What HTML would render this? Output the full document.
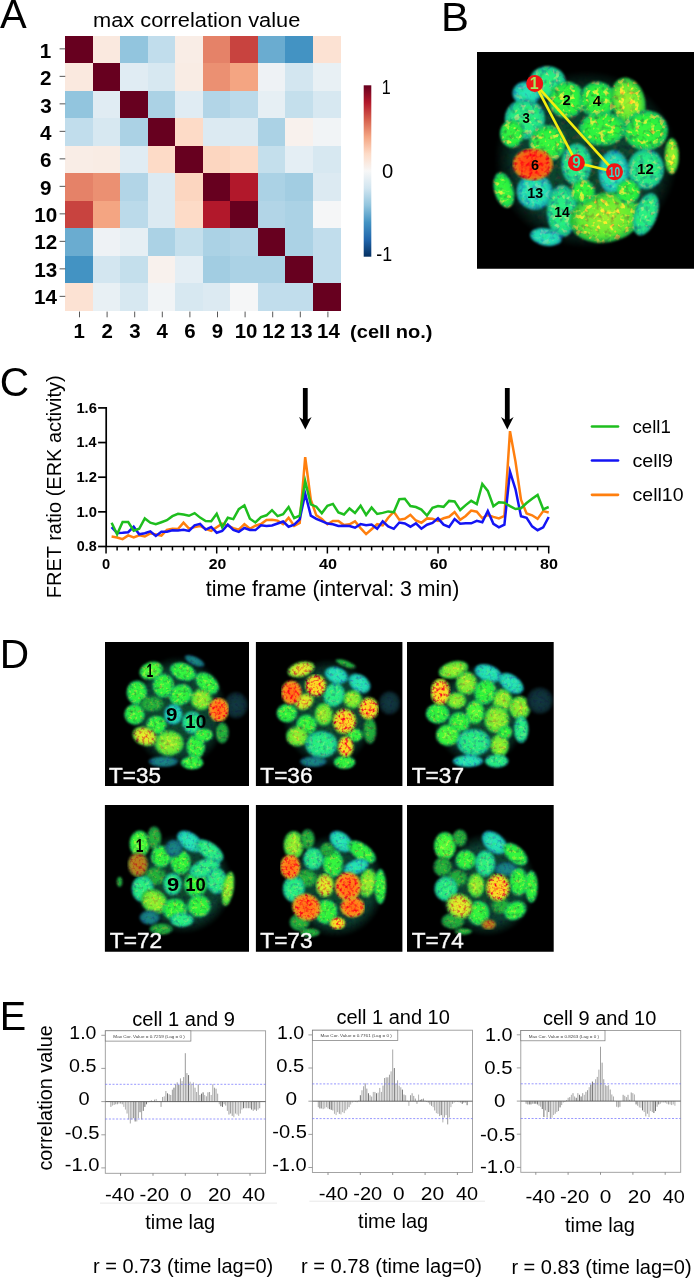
<!DOCTYPE html><html><head><meta charset="utf-8"><title>figure</title><style>html,body{margin:0;padding:0;background:#fff;overflow:hidden}svg{display:block}text{font-family:"Liberation Sans",Arial,sans-serif}</style></head><body>
<svg width="694" height="1279" viewBox="0 0 694 1279">
<rect width="694" height="1279" fill="#fff"/>
<defs>
<radialGradient id="p_g"><stop offset="0" stop-color="#38f840"/><stop offset="0.7" stop-color="#28f040"/><stop offset="1" stop-color="#14b868"/></radialGradient>
<radialGradient id="p_gb"><stop offset="0" stop-color="#60ff40"/><stop offset="0.7" stop-color="#38f83c"/><stop offset="1" stop-color="#16b858"/></radialGradient>
<radialGradient id="p_gd"><stop offset="0" stop-color="#24b83c"/><stop offset="0.7" stop-color="#1ea83c"/><stop offset="1" stop-color="#0e6a3c"/></radialGradient>
<radialGradient id="p_gc"><stop offset="0" stop-color="#2cf480"/><stop offset="0.7" stop-color="#22e888"/><stop offset="1" stop-color="#12a890"/></radialGradient>
<radialGradient id="p_c"><stop offset="0" stop-color="#28e8b4"/><stop offset="0.7" stop-color="#20dcb4"/><stop offset="1" stop-color="#1090a0"/></radialGradient>
<radialGradient id="p_cd"><stop offset="0" stop-color="#1a8a88"/><stop offset="0.7" stop-color="#167a80"/><stop offset="1" stop-color="#0c4860"/></radialGradient>
<radialGradient id="p_y"><stop offset="0" stop-color="#a0f030"/><stop offset="0.7" stop-color="#6cec34"/><stop offset="1" stop-color="#18b048"/></radialGradient>
<radialGradient id="p_yo"><stop offset="0" stop-color="#f0f028"/><stop offset="0.7" stop-color="#c8ec2c"/><stop offset="1" stop-color="#38b83c"/></radialGradient>
<radialGradient id="p_o"><stop offset="0" stop-color="#ffd420"/><stop offset="0.7" stop-color="#f4e028"/><stop offset="1" stop-color="#68c430"/></radialGradient>
<radialGradient id="p_r"><stop offset="0" stop-color="#ff6a14"/><stop offset="0.7" stop-color="#ff8a1a"/><stop offset="1" stop-color="#c0b428"/></radialGradient>
<radialGradient id="p_rr"><stop offset="0" stop-color="#ff3c10"/><stop offset="0.7" stop-color="#ff5a14"/><stop offset="1" stop-color="#c8901c"/></radialGradient>
<radialGradient id="p_gy"><stop offset="0" stop-color="#a0f030"/><stop offset="0.7" stop-color="#60ec34"/><stop offset="1" stop-color="#18b048"/></radialGradient>
<radialGradient id="p_rd"><stop offset="0" stop-color="#c07818"/><stop offset="0.7" stop-color="#b08820"/><stop offset="1" stop-color="#587828"/></radialGradient>
<radialGradient id="p_b"><stop offset="0" stop-color="#123a44"/><stop offset="0.7" stop-color="#0e3038"/><stop offset="1" stop-color="#061418"/></radialGradient>
<radialGradient id="haze"><stop offset="0" stop-color="#0c4c2c"/><stop offset="0.75" stop-color="#0a3e30"/><stop offset="1" stop-color="#000"/></radialGradient>
<filter id="blur" x="0" y="0" width="100%" height="100%" color-interpolation-filters="sRGB"><feGaussianBlur in="SourceGraphic" stdDeviation="0.9" result="b"/><feTurbulence type="fractalNoise" baseFrequency="0.3" numOctaves="2" seed="5" result="n"/><feColorMatrix in="n" type="matrix" values="0 0 0 0 1  0 0.9 0 0 0.55  0 0 0.6 0 0.7  0 0 0 0 1" result="m"/><feComposite in="b" in2="m" operator="arithmetic" k1="1" k2="0" k3="0" k4="0" result="bm"/><feColorMatrix in="n" type="matrix" values="6 0 0 0 -3.25  0 0 0 0 0  0 0 0 0 0  0 0 0 0 1" result="s"/><feColorMatrix in="b" type="matrix" values="-0.6 1.1 -0.9 0 0  0 0 0 0 0  0 0 0 0 0  0 0 0 0 1" result="bg"/><feComposite in="bg" in2="s" operator="arithmetic" k1="1" k2="0" k3="0" k4="0" result="sp"/><feComposite in="bm" in2="sp" operator="arithmetic" k1="0" k2="1" k3="0.4" k4="0"/></filter>
<filter id="blurB" x="0" y="0" width="100%" height="100%" color-interpolation-filters="sRGB"><feGaussianBlur in="SourceGraphic" stdDeviation="1.3" result="b"/><feTurbulence type="fractalNoise" baseFrequency="0.2" numOctaves="2" seed="11" result="n"/><feColorMatrix in="n" type="matrix" values="0 0 0 0 1  0 0.9 0 0 0.55  0 0 0.6 0 0.7  0 0 0 0 1" result="m"/><feComposite in="b" in2="m" operator="arithmetic" k1="1" k2="0" k3="0" k4="0" result="bm"/><feColorMatrix in="n" type="matrix" values="6 0 0 0 -3.25  0 0 0 0 0  0 0 0 0 0  0 0 0 0 1" result="s"/><feColorMatrix in="b" type="matrix" values="-0.6 1.1 -0.9 0 0  0 0 0 0 0  0 0 0 0 0  0 0 0 0 1" result="bg"/><feComposite in="bg" in2="s" operator="arithmetic" k1="1" k2="0" k3="0" k4="0" result="sp"/><feComposite in="bm" in2="sp" operator="arithmetic" k1="0" k2="1" k3="0.9" k4="0"/></filter>
<filter id="hot" x="0" y="0" width="100%" height="100%" color-interpolation-filters="sRGB"><feGaussianBlur in="SourceGraphic" stdDeviation="0.9" result="b"/><feTurbulence type="fractalNoise" baseFrequency="0.33" numOctaves="2" seed="8" result="n"/><feColorMatrix in="n" type="matrix" values="0 0 0 0 1  0 3.0 0 0 -0.65  0 0 0 0 1  0 0 0 0 1" result="m"/><feComposite in="b" in2="m" operator="arithmetic" k1="1" k2="0" k3="0" k4="0"/></filter>
<filter id="hotB" x="0" y="0" width="100%" height="100%" color-interpolation-filters="sRGB"><feGaussianBlur in="SourceGraphic" stdDeviation="1.3" result="b"/><feTurbulence type="fractalNoise" baseFrequency="0.24" numOctaves="2" seed="4" result="n"/><feColorMatrix in="n" type="matrix" values="0 0 0 0 1  0 3.0 0 0 -0.65  0 0 0 0 1  0 0 0 0 1" result="m"/><feComposite in="b" in2="m" operator="arithmetic" k1="1" k2="0" k3="0" k4="0"/></filter>
<filter id="warm" x="0" y="0" width="100%" height="100%" color-interpolation-filters="sRGB"><feGaussianBlur in="SourceGraphic" stdDeviation="0.9" result="b"/><feTurbulence type="fractalNoise" baseFrequency="0.33" numOctaves="2" seed="17" result="n"/><feColorMatrix in="n" type="matrix" values="0 0 0 0 1  0 1.8 0 0 0.0  0 0 0 0 1  0 0 0 0 1" result="m"/><feComposite in="b" in2="m" operator="arithmetic" k1="1" k2="0" k3="0" k4="0"/></filter>
</defs>
<g id="panelA">
<text transform="translate(0.00,28.10) scale(1.0000,1)" font-size="40">A</text>
<text transform="translate(93.08,27.00) scale(1.0492,1)" font-size="20.8">max correlation value</text>
<g shape-rendering="crispEdges">
<rect x="65.30" y="35.60" width="27.80" height="27.80" fill="#67001f"/>
<rect x="92.80" y="35.60" width="27.80" height="27.80" fill="#fae9df"/>
<rect x="120.30" y="35.60" width="27.80" height="27.80" fill="#92c5de"/>
<rect x="147.80" y="35.60" width="27.80" height="27.80" fill="#c1ddec"/>
<rect x="175.30" y="35.60" width="27.80" height="27.80" fill="#f9ede6"/>
<rect x="202.80" y="35.60" width="27.80" height="27.80" fill="#e58268"/>
<rect x="230.30" y="35.60" width="27.80" height="27.80" fill="#c8433f"/>
<rect x="257.80" y="35.60" width="27.80" height="27.80" fill="#6aacd0"/>
<rect x="285.30" y="35.60" width="27.80" height="27.80" fill="#4393c3"/>
<rect x="312.80" y="35.60" width="27.80" height="27.80" fill="#fce2d3"/>
<rect x="65.30" y="63.10" width="27.80" height="27.80" fill="#fae9df"/>
<rect x="92.80" y="63.10" width="27.80" height="27.80" fill="#67001f"/>
<rect x="120.30" y="63.10" width="27.80" height="27.80" fill="#e0ecf3"/>
<rect x="147.80" y="63.10" width="27.80" height="27.80" fill="#d7e8f1"/>
<rect x="175.30" y="63.10" width="27.80" height="27.80" fill="#f9ece4"/>
<rect x="202.80" y="63.10" width="27.80" height="27.80" fill="#eb9072"/>
<rect x="230.30" y="63.10" width="27.80" height="27.80" fill="#f4a582"/>
<rect x="257.80" y="63.10" width="27.80" height="27.80" fill="#eef2f5"/>
<rect x="285.30" y="63.10" width="27.80" height="27.80" fill="#d3e6f0"/>
<rect x="312.80" y="63.10" width="27.80" height="27.80" fill="#e8f0f4"/>
<rect x="65.30" y="90.60" width="27.80" height="27.80" fill="#92c5de"/>
<rect x="92.80" y="90.60" width="27.80" height="27.80" fill="#e0ecf3"/>
<rect x="120.30" y="90.60" width="27.80" height="27.80" fill="#67001f"/>
<rect x="147.80" y="90.60" width="27.80" height="27.80" fill="#abd2e5"/>
<rect x="175.30" y="90.60" width="27.80" height="27.80" fill="#e0ecf3"/>
<rect x="202.80" y="90.60" width="27.80" height="27.80" fill="#b2d5e7"/>
<rect x="230.30" y="90.60" width="27.80" height="27.80" fill="#bbdaea"/>
<rect x="257.80" y="90.60" width="27.80" height="27.80" fill="#e6eff4"/>
<rect x="285.30" y="90.60" width="27.80" height="27.80" fill="#c4dfec"/>
<rect x="312.80" y="90.60" width="27.80" height="27.80" fill="#d7e8f1"/>
<rect x="65.30" y="118.10" width="27.80" height="27.80" fill="#c1ddec"/>
<rect x="92.80" y="118.10" width="27.80" height="27.80" fill="#d7e8f1"/>
<rect x="120.30" y="118.10" width="27.80" height="27.80" fill="#abd2e5"/>
<rect x="147.80" y="118.10" width="27.80" height="27.80" fill="#67001f"/>
<rect x="175.30" y="118.10" width="27.80" height="27.80" fill="#fddbc7"/>
<rect x="202.80" y="118.10" width="27.80" height="27.80" fill="#dceaf2"/>
<rect x="230.30" y="118.10" width="27.80" height="27.80" fill="#dceaf2"/>
<rect x="257.80" y="118.10" width="27.80" height="27.80" fill="#abd2e5"/>
<rect x="285.30" y="118.10" width="27.80" height="27.80" fill="#f8f1ed"/>
<rect x="312.80" y="118.10" width="27.80" height="27.80" fill="#f1f4f6"/>
<rect x="65.30" y="145.60" width="27.80" height="27.80" fill="#f9ede6"/>
<rect x="92.80" y="145.60" width="27.80" height="27.80" fill="#f9ece4"/>
<rect x="120.30" y="145.60" width="27.80" height="27.80" fill="#e0ecf3"/>
<rect x="147.80" y="145.60" width="27.80" height="27.80" fill="#fddbc7"/>
<rect x="175.30" y="145.60" width="27.80" height="27.80" fill="#67001f"/>
<rect x="202.80" y="145.60" width="27.80" height="27.80" fill="#fcd6c0"/>
<rect x="230.30" y="145.60" width="27.80" height="27.80" fill="#fddbc7"/>
<rect x="257.80" y="145.60" width="27.80" height="27.80" fill="#c4dfec"/>
<rect x="285.30" y="145.60" width="27.80" height="27.80" fill="#e4eef4"/>
<rect x="312.80" y="145.60" width="27.80" height="27.80" fill="#d7e8f1"/>
<rect x="65.30" y="173.10" width="27.80" height="27.80" fill="#e58268"/>
<rect x="92.80" y="173.10" width="27.80" height="27.80" fill="#eb9072"/>
<rect x="120.30" y="173.10" width="27.80" height="27.80" fill="#b2d5e7"/>
<rect x="147.80" y="173.10" width="27.80" height="27.80" fill="#dceaf2"/>
<rect x="175.30" y="173.10" width="27.80" height="27.80" fill="#fcd6c0"/>
<rect x="202.80" y="173.10" width="27.80" height="27.80" fill="#67001f"/>
<rect x="230.30" y="173.10" width="27.80" height="27.80" fill="#b2182b"/>
<rect x="257.80" y="173.10" width="27.80" height="27.80" fill="#abd2e5"/>
<rect x="285.30" y="173.10" width="27.80" height="27.80" fill="#a2cde2"/>
<rect x="312.80" y="173.10" width="27.80" height="27.80" fill="#dceaf2"/>
<rect x="65.30" y="200.60" width="27.80" height="27.80" fill="#c8433f"/>
<rect x="92.80" y="200.60" width="27.80" height="27.80" fill="#f4a582"/>
<rect x="120.30" y="200.60" width="27.80" height="27.80" fill="#bbdaea"/>
<rect x="147.80" y="200.60" width="27.80" height="27.80" fill="#dceaf2"/>
<rect x="175.30" y="200.60" width="27.80" height="27.80" fill="#fddbc7"/>
<rect x="202.80" y="200.60" width="27.80" height="27.80" fill="#b2182b"/>
<rect x="230.30" y="200.60" width="27.80" height="27.80" fill="#67001f"/>
<rect x="257.80" y="200.60" width="27.80" height="27.80" fill="#b2d5e7"/>
<rect x="285.30" y="200.60" width="27.80" height="27.80" fill="#abd2e5"/>
<rect x="312.80" y="200.60" width="27.80" height="27.80" fill="#f5f6f7"/>
<rect x="65.30" y="228.10" width="27.80" height="27.80" fill="#6aacd0"/>
<rect x="92.80" y="228.10" width="27.80" height="27.80" fill="#eef2f5"/>
<rect x="120.30" y="228.10" width="27.80" height="27.80" fill="#e6eff4"/>
<rect x="147.80" y="228.10" width="27.80" height="27.80" fill="#abd2e5"/>
<rect x="175.30" y="228.10" width="27.80" height="27.80" fill="#c4dfec"/>
<rect x="202.80" y="228.10" width="27.80" height="27.80" fill="#abd2e5"/>
<rect x="230.30" y="228.10" width="27.80" height="27.80" fill="#b2d5e7"/>
<rect x="257.80" y="228.10" width="27.80" height="27.80" fill="#67001f"/>
<rect x="285.30" y="228.10" width="27.80" height="27.80" fill="#abd2e5"/>
<rect x="312.80" y="228.10" width="27.80" height="27.80" fill="#c1ddec"/>
<rect x="65.30" y="255.60" width="27.80" height="27.80" fill="#4393c3"/>
<rect x="92.80" y="255.60" width="27.80" height="27.80" fill="#d3e6f0"/>
<rect x="120.30" y="255.60" width="27.80" height="27.80" fill="#c4dfec"/>
<rect x="147.80" y="255.60" width="27.80" height="27.80" fill="#f8f1ed"/>
<rect x="175.30" y="255.60" width="27.80" height="27.80" fill="#e4eef4"/>
<rect x="202.80" y="255.60" width="27.80" height="27.80" fill="#a2cde2"/>
<rect x="230.30" y="255.60" width="27.80" height="27.80" fill="#abd2e5"/>
<rect x="257.80" y="255.60" width="27.80" height="27.80" fill="#abd2e5"/>
<rect x="285.30" y="255.60" width="27.80" height="27.80" fill="#67001f"/>
<rect x="312.80" y="255.60" width="27.80" height="27.80" fill="#c1ddec"/>
<rect x="65.30" y="283.10" width="27.80" height="27.80" fill="#fce2d3"/>
<rect x="92.80" y="283.10" width="27.80" height="27.80" fill="#e8f0f4"/>
<rect x="120.30" y="283.10" width="27.80" height="27.80" fill="#d7e8f1"/>
<rect x="147.80" y="283.10" width="27.80" height="27.80" fill="#f1f4f6"/>
<rect x="175.30" y="283.10" width="27.80" height="27.80" fill="#d7e8f1"/>
<rect x="202.80" y="283.10" width="27.80" height="27.80" fill="#dceaf2"/>
<rect x="230.30" y="283.10" width="27.80" height="27.80" fill="#f5f6f7"/>
<rect x="257.80" y="283.10" width="27.80" height="27.80" fill="#c1ddec"/>
<rect x="285.30" y="283.10" width="27.80" height="27.80" fill="#c1ddec"/>
<rect x="312.80" y="283.10" width="27.80" height="27.80" fill="#67001f"/>
</g>
<line x1="59.6" x2="65.3" y1="48.85" y2="48.85" stroke="#444" stroke-width="0.9"/>
<text transform="translate(39.70,57.90) scale(1.0600,1)" font-size="19.5" font-weight="bold">1</text>
<line x1="79.50" x2="79.50" y1="311.6" y2="317.3" stroke="#444" stroke-width="0.9"/>
<text transform="translate(73.46,337.70) scale(1.0600,1)" font-size="19.3" font-weight="bold">1</text>
<line x1="59.6" x2="65.3" y1="76.35" y2="76.35" stroke="#444" stroke-width="0.9"/>
<text transform="translate(40.12,85.25) scale(1.0600,1)" font-size="19.5" font-weight="bold">2</text>
<line x1="107.10" x2="107.10" y1="311.6" y2="317.3" stroke="#444" stroke-width="0.9"/>
<text transform="translate(101.47,337.70) scale(1.0600,1)" font-size="19.3" font-weight="bold">2</text>
<line x1="59.6" x2="65.3" y1="103.85" y2="103.85" stroke="#444" stroke-width="0.9"/>
<text transform="translate(40.22,112.60) scale(1.0600,1)" font-size="19.5" font-weight="bold">3</text>
<line x1="134.70" x2="134.70" y1="311.6" y2="317.3" stroke="#444" stroke-width="0.9"/>
<text transform="translate(129.18,337.70) scale(1.0600,1)" font-size="19.3" font-weight="bold">3</text>
<line x1="59.6" x2="65.3" y1="131.35" y2="131.35" stroke="#444" stroke-width="0.9"/>
<text transform="translate(39.91,139.95) scale(1.0600,1)" font-size="19.5" font-weight="bold">4</text>
<line x1="162.30" x2="162.30" y1="311.6" y2="317.3" stroke="#444" stroke-width="0.9"/>
<text transform="translate(156.47,337.70) scale(1.0600,1)" font-size="19.3" font-weight="bold">4</text>
<line x1="59.6" x2="65.3" y1="158.85" y2="158.85" stroke="#444" stroke-width="0.9"/>
<text transform="translate(40.06,167.30) scale(1.0600,1)" font-size="19.5" font-weight="bold">6</text>
<line x1="189.90" x2="189.90" y1="311.6" y2="317.3" stroke="#444" stroke-width="0.9"/>
<text transform="translate(184.22,337.70) scale(1.0600,1)" font-size="19.3" font-weight="bold">6</text>
<line x1="59.6" x2="65.3" y1="186.35" y2="186.35" stroke="#444" stroke-width="0.9"/>
<text transform="translate(40.12,194.65) scale(1.0600,1)" font-size="19.5" font-weight="bold">9</text>
<line x1="217.50" x2="217.50" y1="311.6" y2="317.3" stroke="#444" stroke-width="0.9"/>
<text transform="translate(211.87,337.70) scale(1.0600,1)" font-size="19.3" font-weight="bold">9</text>
<line x1="59.6" x2="65.3" y1="213.85" y2="213.85" stroke="#444" stroke-width="0.9"/>
<text transform="translate(34.26,222.00) scale(1.0600,1)" font-size="19.5" font-weight="bold">10</text>
<line x1="245.10" x2="245.10" y1="311.6" y2="317.3" stroke="#444" stroke-width="0.9"/>
<text transform="translate(234.68,337.70) scale(1.0600,1)" font-size="19.3" font-weight="bold">10</text>
<line x1="59.6" x2="65.3" y1="241.35" y2="241.35" stroke="#444" stroke-width="0.9"/>
<text transform="translate(34.26,249.35) scale(1.0600,1)" font-size="19.5" font-weight="bold">12</text>
<line x1="272.70" x2="272.70" y1="311.6" y2="317.3" stroke="#444" stroke-width="0.9"/>
<text transform="translate(262.28,337.70) scale(1.0600,1)" font-size="19.3" font-weight="bold">12</text>
<line x1="59.6" x2="65.3" y1="268.85" y2="268.85" stroke="#444" stroke-width="0.9"/>
<text transform="translate(34.26,276.70) scale(1.0600,1)" font-size="19.5" font-weight="bold">13</text>
<line x1="300.30" x2="300.30" y1="311.6" y2="317.3" stroke="#444" stroke-width="0.9"/>
<text transform="translate(289.88,337.70) scale(1.0600,1)" font-size="19.3" font-weight="bold">13</text>
<line x1="59.6" x2="65.3" y1="296.35" y2="296.35" stroke="#444" stroke-width="0.9"/>
<text transform="translate(33.90,304.05) scale(1.0600,1)" font-size="19.5" font-weight="bold">14</text>
<line x1="327.90" x2="327.90" y1="311.6" y2="317.3" stroke="#444" stroke-width="0.9"/>
<text transform="translate(317.12,337.70) scale(1.0600,1)" font-size="19.3" font-weight="bold">14</text>
<text transform="translate(350.10,337.60) scale(1.0669,1)" font-size="18.8" font-weight="bold">(cell no.)</text>
<defs><linearGradient id="cb" x1="0" y1="0" x2="0" y2="1"><stop offset="0%" stop-color="#67001f"/><stop offset="10%" stop-color="#b2182b"/><stop offset="20%" stop-color="#d6604d"/><stop offset="30%" stop-color="#f4a582"/><stop offset="40%" stop-color="#fddbc7"/><stop offset="50%" stop-color="#f7f7f7"/><stop offset="60%" stop-color="#d1e5f0"/><stop offset="70%" stop-color="#92c5de"/><stop offset="80%" stop-color="#4393c3"/><stop offset="90%" stop-color="#2166ac"/><stop offset="100%" stop-color="#053061"/></linearGradient></defs>
<rect x="363.7" y="85.3" width="7.6" height="171.4" fill="url(#cb)"/>
<text transform="translate(381.79,94.40) scale(0.8046,1)" font-size="20">1</text>
<text transform="translate(381.99,178.00) scale(1.0103,1)" font-size="20">0</text>
<text transform="translate(376.29,260.50) scale(0.8904,1)" font-size="20">-1</text>
</g>
<g id="panelB">
<text transform="translate(440.95,31.00) scale(1.0467,1)" font-size="40">B</text>
<clipPath id="clB"><rect x="477" y="52" width="217.0" height="216.8"/></clipPath>
<g clip-path="url(#clB)"><g filter="url(#blurB)">
<rect x="471" y="46" width="229.0" height="228.8" fill="#000"/>
<ellipse cx="586.2" cy="159.4" rx="92.0" ry="88.8" fill="url(#haze)"/>
<ellipse cx="547.5" cy="82.0" rx="18.2" ry="16.1" transform="rotate(0 547.5 82.0)" fill="url(#p_gc)"/>
<ellipse cx="526.5" cy="93.3" rx="14.1" ry="12.1" transform="rotate(0 526.5 93.3)" fill="url(#p_c)"/>
<ellipse cx="566.8" cy="99.7" rx="18.2" ry="18.2" transform="rotate(0 566.8 99.7)" fill="url(#p_g)"/>
<ellipse cx="597.5" cy="99.7" rx="18.2" ry="18.2" transform="rotate(0 597.5 99.7)" fill="url(#p_g)"/>
<ellipse cx="628.2" cy="101.3" rx="16.9" ry="24.2" transform="rotate(-15 628.2 101.3)" fill="url(#p_gy)"/>
<ellipse cx="524.9" cy="119.1" rx="20.2" ry="20.2" transform="rotate(0 524.9 119.1)" fill="url(#p_gc)"/>
<ellipse cx="645.9" cy="130.4" rx="22.2" ry="20.2" transform="rotate(0 645.9 130.4)" fill="url(#p_g)"/>
<ellipse cx="602.3" cy="128.8" rx="23.4" ry="16.9" transform="rotate(0 602.3 128.8)" fill="url(#p_g)"/>
<ellipse cx="547.5" cy="143.3" rx="18.2" ry="18.2" transform="rotate(0 547.5 143.3)" fill="url(#p_g)"/>
<ellipse cx="576.5" cy="164.3" rx="15.3" ry="21.0" transform="rotate(0 576.5 164.3)" fill="url(#p_gc)"/>
<ellipse cx="613.6" cy="172.3" rx="15.3" ry="22.2" transform="rotate(0 613.6 172.3)" fill="url(#p_c)"/>
<ellipse cx="645.9" cy="169.1" rx="18.2" ry="20.2" transform="rotate(0 645.9 169.1)" fill="url(#p_gc)"/>
<ellipse cx="671.7" cy="156.2" rx="7.3" ry="18.2" transform="rotate(0 671.7 156.2)" fill="url(#p_y)"/>
<ellipse cx="534.6" cy="191.7" rx="18.2" ry="18.2" transform="rotate(0 534.6 191.7)" fill="url(#p_c)"/>
<ellipse cx="503.9" cy="190.1" rx="9.7" ry="18.2" transform="rotate(-15 503.9 190.1)" fill="url(#p_g)"/>
<ellipse cx="562.0" cy="211.1" rx="15.3" ry="26.2" transform="rotate(0 562.0 211.1)" fill="url(#p_gc)"/>
<ellipse cx="605.6" cy="217.5" rx="36.3" ry="25.0" transform="rotate(-10 605.6 217.5)" fill="url(#p_gy)"/>
<ellipse cx="645.9" cy="214.3" rx="11.3" ry="22.2" transform="rotate(20 645.9 214.3)" fill="url(#p_gc)"/>
<ellipse cx="545.9" cy="236.9" rx="16.1" ry="8.9" transform="rotate(10 545.9 236.9)" fill="url(#p_c)"/>
<ellipse cx="512.0" cy="133.6" rx="12.1" ry="14.1" transform="rotate(0 512.0 133.6)" fill="url(#p_g)"/>
<ellipse cx="628.2" cy="191.7" rx="12.1" ry="12.1" transform="rotate(0 628.2 191.7)" fill="url(#p_g)"/>
<ellipse cx="583.0" cy="191.7" rx="12.1" ry="12.1" transform="rotate(0 583.0 191.7)" fill="url(#p_g)"/>
</g><g filter="url(#hotB)">
<ellipse cx="532.9" cy="164.3" rx="20.2" ry="16.1" transform="rotate(0 532.9 164.3)" fill="url(#p_rr)"/>
</g></g>
<line x1="534.7" y1="83.4" x2="576.4" y2="162.7" stroke="#f4ee10" stroke-width="2.6"/>
<line x1="534.7" y1="83.4" x2="614.5" y2="171.7" stroke="#f4ee10" stroke-width="2.6"/>
<line x1="576.4" y1="162.7" x2="614.5" y2="171.7" stroke="#f4ee10" stroke-width="2.6"/>
<circle cx="534.7" cy="83.4" r="8.5" fill="#f01414"/>
<circle cx="576.4" cy="162.7" r="8.5" fill="#f01414"/>
<circle cx="614.5" cy="171.7" r="8.5" fill="#f01414"/>
<text transform="translate(529.68,89.00) scale(1.0000,1)" font-size="16" font-weight="bold" fill="#a0e860">1</text>
<text transform="translate(572.22,168.40) scale(0.9500,1)" font-size="16" font-weight="bold" fill="#38e0a8">9</text>
<text transform="translate(608.71,177.10) scale(0.6800,1)" font-size="15" font-weight="bold" fill="#38d8d0">10</text>
<text transform="translate(562.55,105.00) scale(1.0346,1)" font-size="14.4" font-weight="bold">2</text>
<text transform="translate(592.77,105.90) scale(1.0545,1)" font-size="14.4" font-weight="bold">4</text>
<text transform="translate(522.44,122.80) scale(0.9167,1)" font-size="14.4" font-weight="bold">3</text>
<text transform="translate(530.99,169.80) scale(1.0023,1)" font-size="14.4" font-weight="bold">6</text>
<text transform="translate(637.10,174.10) scale(1.0456,1)" font-size="14.4" font-weight="bold">12</text>
<text transform="translate(527.24,197.60) scale(0.9909,1)" font-size="14.4" font-weight="bold">13</text>
<text transform="translate(554.17,216.50) scale(0.9645,1)" font-size="14.4" font-weight="bold">14</text>
</g>
<g id="panelC">
<text transform="translate(-0.13,396.40) scale(1.0157,1)" font-size="40">C</text>
<path d="M106.2 407.10 V546.5 H549.49" fill="none" stroke="#000" stroke-width="1.7"/>
<line x1="98.1" x2="106.05" y1="546.50" y2="546.50" stroke="#000" stroke-width="1.7"/>
<text transform="translate(76.80,551.40) scale(0.9844,1)" font-size="14.6" font-weight="bold">0.8</text>
<line x1="98.1" x2="106.05" y1="511.85" y2="511.85" stroke="#000" stroke-width="1.7"/>
<text transform="translate(76.41,516.75) scale(1.0110,1)" font-size="14.6" font-weight="bold">1.0</text>
<line x1="98.1" x2="106.05" y1="477.20" y2="477.20" stroke="#000" stroke-width="1.7"/>
<text transform="translate(76.41,482.10) scale(1.0110,1)" font-size="14.6" font-weight="bold">1.2</text>
<line x1="98.1" x2="106.05" y1="442.55" y2="442.55" stroke="#000" stroke-width="1.7"/>
<text transform="translate(76.44,447.45) scale(0.9844,1)" font-size="14.6" font-weight="bold">1.4</text>
<line x1="98.1" x2="106.05" y1="407.90" y2="407.90" stroke="#000" stroke-width="1.7"/>
<text transform="translate(76.41,412.80) scale(1.0110,1)" font-size="14.6" font-weight="bold">1.6</text>
<line x1="106.05" x2="106.05" y1="546.5" y2="553.5" stroke="#000" stroke-width="1.5"/>
<line x1="117.12" x2="117.12" y1="546.5" y2="550.5" stroke="#000" stroke-width="1.5"/>
<line x1="128.18" x2="128.18" y1="546.5" y2="550.5" stroke="#000" stroke-width="1.5"/>
<line x1="139.25" x2="139.25" y1="546.5" y2="550.5" stroke="#000" stroke-width="1.5"/>
<line x1="150.31" x2="150.31" y1="546.5" y2="550.5" stroke="#000" stroke-width="1.5"/>
<line x1="161.38" x2="161.38" y1="546.5" y2="550.5" stroke="#000" stroke-width="1.5"/>
<line x1="172.45" x2="172.45" y1="546.5" y2="550.5" stroke="#000" stroke-width="1.5"/>
<line x1="183.51" x2="183.51" y1="546.5" y2="550.5" stroke="#000" stroke-width="1.5"/>
<line x1="194.58" x2="194.58" y1="546.5" y2="550.5" stroke="#000" stroke-width="1.5"/>
<line x1="205.64" x2="205.64" y1="546.5" y2="550.5" stroke="#000" stroke-width="1.5"/>
<line x1="216.71" x2="216.71" y1="546.5" y2="553.5" stroke="#000" stroke-width="1.5"/>
<line x1="227.78" x2="227.78" y1="546.5" y2="550.5" stroke="#000" stroke-width="1.5"/>
<line x1="238.84" x2="238.84" y1="546.5" y2="550.5" stroke="#000" stroke-width="1.5"/>
<line x1="249.91" x2="249.91" y1="546.5" y2="550.5" stroke="#000" stroke-width="1.5"/>
<line x1="260.97" x2="260.97" y1="546.5" y2="550.5" stroke="#000" stroke-width="1.5"/>
<line x1="272.04" x2="272.04" y1="546.5" y2="550.5" stroke="#000" stroke-width="1.5"/>
<line x1="283.11" x2="283.11" y1="546.5" y2="550.5" stroke="#000" stroke-width="1.5"/>
<line x1="294.17" x2="294.17" y1="546.5" y2="550.5" stroke="#000" stroke-width="1.5"/>
<line x1="305.24" x2="305.24" y1="546.5" y2="550.5" stroke="#000" stroke-width="1.5"/>
<line x1="316.30" x2="316.30" y1="546.5" y2="550.5" stroke="#000" stroke-width="1.5"/>
<line x1="327.37" x2="327.37" y1="546.5" y2="553.5" stroke="#000" stroke-width="1.5"/>
<line x1="338.44" x2="338.44" y1="546.5" y2="550.5" stroke="#000" stroke-width="1.5"/>
<line x1="349.50" x2="349.50" y1="546.5" y2="550.5" stroke="#000" stroke-width="1.5"/>
<line x1="360.57" x2="360.57" y1="546.5" y2="550.5" stroke="#000" stroke-width="1.5"/>
<line x1="371.63" x2="371.63" y1="546.5" y2="550.5" stroke="#000" stroke-width="1.5"/>
<line x1="382.70" x2="382.70" y1="546.5" y2="550.5" stroke="#000" stroke-width="1.5"/>
<line x1="393.77" x2="393.77" y1="546.5" y2="550.5" stroke="#000" stroke-width="1.5"/>
<line x1="404.83" x2="404.83" y1="546.5" y2="550.5" stroke="#000" stroke-width="1.5"/>
<line x1="415.90" x2="415.90" y1="546.5" y2="550.5" stroke="#000" stroke-width="1.5"/>
<line x1="426.96" x2="426.96" y1="546.5" y2="550.5" stroke="#000" stroke-width="1.5"/>
<line x1="438.03" x2="438.03" y1="546.5" y2="553.5" stroke="#000" stroke-width="1.5"/>
<line x1="449.10" x2="449.10" y1="546.5" y2="550.5" stroke="#000" stroke-width="1.5"/>
<line x1="460.16" x2="460.16" y1="546.5" y2="550.5" stroke="#000" stroke-width="1.5"/>
<line x1="471.23" x2="471.23" y1="546.5" y2="550.5" stroke="#000" stroke-width="1.5"/>
<line x1="482.29" x2="482.29" y1="546.5" y2="550.5" stroke="#000" stroke-width="1.5"/>
<line x1="493.36" x2="493.36" y1="546.5" y2="550.5" stroke="#000" stroke-width="1.5"/>
<line x1="504.43" x2="504.43" y1="546.5" y2="550.5" stroke="#000" stroke-width="1.5"/>
<line x1="515.49" x2="515.49" y1="546.5" y2="550.5" stroke="#000" stroke-width="1.5"/>
<line x1="526.56" x2="526.56" y1="546.5" y2="550.5" stroke="#000" stroke-width="1.5"/>
<line x1="537.62" x2="537.62" y1="546.5" y2="550.5" stroke="#000" stroke-width="1.5"/>
<line x1="548.69" x2="548.69" y1="546.5" y2="553.5" stroke="#000" stroke-width="1.5"/>
<text transform="translate(101.89,569.00) scale(1.0027,1)" font-size="14.6" font-weight="bold">0</text>
<text transform="translate(208.63,569.00) scale(1.0803,1)" font-size="14.6" font-weight="bold">20</text>
<text transform="translate(319.06,569.00) scale(1.1102,1)" font-size="14.6" font-weight="bold">40</text>
<text transform="translate(429.64,569.00) scale(1.1052,1)" font-size="14.6" font-weight="bold">60</text>
<text transform="translate(540.02,569.00) scale(1.1065,1)" font-size="14.6" font-weight="bold">80</text>
<path d="M302.90000000000003 388.1 H307.7 V419.6 L311.6 417 L305.3 429.4 L299.0 417 L302.90000000000003 419.6 Z" fill="#000"/>
<path d="M504.90000000000003 388.1 H509.7 V419.6 L513.6 417 L507.3 429.4 L501.0 417 L504.90000000000003 419.6 Z" fill="#000"/>
<polyline points="111.6,536.6 117.1,537.5 122.6,539.1 128.2,535.4 133.7,537.4 139.2,535.3 144.8,536.5 150.3,533.3 155.8,534.4 161.4,535.6 166.9,529.8 172.4,528.8 178.0,529.0 183.5,522.7 189.0,528.6 194.6,527.1 200.1,526.0 205.6,528.8 211.2,530.9 216.7,527.3 222.2,523.6 227.8,525.7 233.3,528.1 238.8,529.6 244.4,524.1 249.9,528.8 255.4,525.7 261.0,524.0 266.5,520.0 272.0,519.8 277.6,520.6 283.1,524.1 288.6,517.7 294.2,525.9 299.7,522.9 305.2,457.1 310.8,499.7 316.3,515.3 321.8,519.0 327.4,524.3 332.9,520.9 338.4,520.9 344.0,525.1 349.5,524.3 355.0,521.3 360.6,528.1 366.1,534.1 371.6,529.2 377.2,524.2 382.7,525.4 388.2,517.7 393.8,511.7 399.3,519.7 404.8,518.7 410.4,514.8 415.9,520.5 421.4,522.7 427.0,518.4 432.5,518.8 438.0,520.8 443.6,518.3 449.1,516.8 454.6,512.1 460.2,519.7 465.7,516.0 471.2,510.5 476.8,511.7 482.3,518.2 487.8,515.0 493.4,516.9 498.9,518.5 504.4,515.9 510.0,431.1 515.5,461.6 521.0,499.7 526.6,513.5 532.1,515.3 537.6,518.9 543.2,511.1 548.7,512.5" fill="none" stroke="#ff7f0e" stroke-width="2.5" stroke-linejoin="miter" stroke-miterlimit="8"/>
<polyline points="111.6,527.1 117.1,533.0 122.6,532.8 128.2,532.2 133.7,526.7 139.2,534.3 144.8,533.2 150.3,531.3 155.8,535.9 161.4,531.8 166.9,531.8 172.4,530.2 178.0,530.6 183.5,529.7 189.0,530.9 194.6,525.4 200.1,523.9 205.6,529.6 211.2,527.0 216.7,532.7 222.2,530.9 227.8,524.6 233.3,529.8 238.8,531.8 244.4,528.0 249.9,529.9 255.4,530.1 261.0,525.3 266.5,525.9 272.0,525.5 277.6,523.5 283.1,521.5 288.6,526.7 294.2,524.7 299.7,519.4 305.2,493.7 310.8,515.6 316.3,518.8 321.8,521.2 327.4,523.6 332.9,524.3 338.4,525.9 344.0,525.7 349.5,526.1 355.0,527.7 360.6,524.1 366.1,525.2 371.6,524.5 377.2,528.8 382.7,521.3 388.2,526.4 393.8,528.8 399.3,522.5 404.8,523.5 410.4,526.7 415.9,523.4 421.4,528.7 427.0,524.7 432.5,522.9 438.0,518.3 443.6,524.6 449.1,526.9 454.6,519.0 460.2,523.7 465.7,523.3 471.2,523.3 476.8,520.9 482.3,522.2 487.8,511.0 493.4,523.8 498.9,527.4 504.4,524.6 510.0,471.7 515.5,489.3 521.0,516.2 526.6,517.8 532.1,526.4 537.6,530.2 543.2,527.4 548.7,517.0" fill="none" stroke="#1414f4" stroke-width="2.5" stroke-linejoin="miter" stroke-miterlimit="8"/>
<polyline points="111.6,522.8 117.1,534.3 122.6,522.1 128.2,522.1 133.7,530.7 139.2,528.8 144.8,518.4 150.3,522.7 155.8,524.1 161.4,522.2 166.9,520.2 172.4,516.2 178.0,513.8 183.5,514.6 189.0,515.8 194.6,513.1 200.1,517.6 205.6,521.0 211.2,521.2 216.7,513.8 222.2,527.2 227.8,517.8 233.3,519.1 238.8,509.1 244.4,505.3 249.9,518.7 255.4,522.5 261.0,517.1 266.5,515.3 272.0,510.2 277.6,516.1 283.1,514.2 288.6,507.0 294.2,518.2 299.7,515.6 305.2,481.1 310.8,504.3 316.3,506.7 321.8,513.3 327.4,505.7 332.9,503.9 338.4,512.5 344.0,514.5 349.5,508.5 355.0,512.9 360.6,505.8 366.1,514.9 371.6,507.6 377.2,514.0 382.7,512.9 388.2,511.4 393.8,512.2 399.3,499.2 404.8,498.8 410.4,506.0 415.9,507.0 421.4,509.6 427.0,515.5 432.5,507.8 438.0,506.0 443.6,506.8 449.1,500.9 454.6,501.4 460.2,510.0 465.7,505.1 471.2,500.8 476.8,504.0 482.3,483.9 487.8,490.9 493.4,506.3 498.9,502.3 504.4,502.7 510.0,506.1 515.5,509.0 521.0,508.2 526.6,503.0 532.1,498.7 537.6,494.9 543.2,509.3 548.7,507.0" fill="none" stroke="#1ebe1e" stroke-width="2.5" stroke-linejoin="miter" stroke-miterlimit="8"/>
<text transform="translate(60.70,598.20) rotate(-90) scale(1.0204,1)" font-size="19.6">FRET ratio (ERK activity)</text>
<text transform="translate(205.78,596.40) scale(1.0018,1)" font-size="21.3">time frame (interval: 3 min)</text>
<line x1="592" x2="618" y1="426.5" y2="426.5" stroke="#1ebe1e" stroke-width="2.7" stroke-linecap="round"/>
<text transform="translate(632.56,432.90) scale(1.0463,1)" font-size="17.8">cell1</text>
<line x1="592" x2="618" y1="460.5" y2="460.5" stroke="#1414f4" stroke-width="2.7" stroke-linecap="round"/>
<text transform="translate(632.51,466.90) scale(1.1091,1)" font-size="17.8">cell9</text>
<line x1="592" x2="618" y1="494.8" y2="494.8" stroke="#ff7f0e" stroke-width="2.7" stroke-linecap="round"/>
<text transform="translate(632.52,501.20) scale(1.0985,1)" font-size="17.8">cell10</text>
</g>
<g id="panelD">
<text transform="translate(-0.25,668.00) scale(1.0168,1)" font-size="40">D</text>
<g><clipPath id="cl1"><rect x="104.9" y="642" width="144.1" height="144.1"/></clipPath>
<g clip-path="url(#cl1)"><g filter="url(#blur)">
<rect x="98.9" y="636" width="156.1" height="156.1" fill="#000"/>
<ellipse cx="178.4" cy="711.9" rx="48.8" ry="56.0" fill="url(#haze)"/>
<ellipse cx="151.2" cy="670.6" rx="12.1" ry="8.6" transform="rotate(-20 151.2 670.6)" fill="url(#p_gb)"/>
<ellipse cx="183.0" cy="671.7" rx="13.5" ry="8.6" transform="rotate(20 183.0 671.7)" fill="url(#p_g)"/>
<ellipse cx="194.5" cy="660.9" rx="10.8" ry="4.3" transform="rotate(25 194.5 660.9)" fill="url(#p_cd)"/>
<ellipse cx="207.2" cy="683.3" rx="13.5" ry="8.9" transform="rotate(40 207.2 683.3)" fill="url(#p_g)"/>
<ellipse cx="136.9" cy="692.5" rx="10.3" ry="12.1" transform="rotate(0 136.9 692.5)" fill="url(#p_g)"/>
<ellipse cx="163.4" cy="685.6" rx="10.8" ry="12.1" transform="rotate(0 163.4 685.6)" fill="url(#p_g)"/>
<ellipse cx="180.7" cy="694.8" rx="12.1" ry="10.3" transform="rotate(-30 180.7 694.8)" fill="url(#p_g)"/>
<ellipse cx="201.4" cy="699.4" rx="10.8" ry="10.8" transform="rotate(0 201.4 699.4)" fill="url(#p_y)"/>
<ellipse cx="134.6" cy="714.4" rx="10.3" ry="10.3" transform="rotate(0 134.6 714.4)" fill="url(#p_g)"/>
<ellipse cx="151.9" cy="704.0" rx="12.1" ry="8.1" transform="rotate(0 151.9 704.0)" fill="url(#p_gd)"/>
<ellipse cx="173.3" cy="714.4" rx="9.4" ry="10.3" transform="rotate(0 173.3 714.4)" fill="url(#p_c)"/>
<ellipse cx="192.2" cy="722.5" rx="10.3" ry="11.3" transform="rotate(0 192.2 722.5)" fill="url(#p_gc)"/>
<ellipse cx="156.5" cy="724.8" rx="10.3" ry="9.4" transform="rotate(0 156.5 724.8)" fill="url(#p_g)"/>
<ellipse cx="169.2" cy="743.2" rx="14.8" ry="12.9" transform="rotate(0 169.2 743.2)" fill="url(#p_y)"/>
<ellipse cx="195.7" cy="746.7" rx="9.4" ry="12.1" transform="rotate(0 195.7 746.7)" fill="url(#p_g)"/>
<ellipse cx="203.7" cy="735.1" rx="9.4" ry="6.7" transform="rotate(0 203.7 735.1)" fill="url(#p_g)"/>
<ellipse cx="163.4" cy="761.6" rx="14.8" ry="5.4" transform="rotate(0 163.4 761.6)" fill="url(#p_cd)"/>
<ellipse cx="192.2" cy="762.8" rx="11.3" ry="6.7" transform="rotate(0 192.2 762.8)" fill="url(#p_g)"/>
<ellipse cx="236.0" cy="705.2" rx="12.1" ry="13.5" transform="rotate(0 236.0 705.2)" fill="url(#p_b)"/>
<ellipse cx="222.2" cy="732.8" rx="6.7" ry="10.8" transform="rotate(0 222.2 732.8)" fill="url(#p_gd)"/>
</g><g filter="url(#warm)">
<ellipse cx="145.0" cy="736.3" rx="12.9" ry="9.4" transform="rotate(20 145.0 736.3)" fill="url(#p_yo)"/>
</g><g filter="url(#hot)">
<ellipse cx="218.7" cy="709.8" rx="10.3" ry="12.1" transform="rotate(0 218.7 709.8)" fill="url(#p_r)"/>
</g></g>
<text transform="translate(146.57,677.40) scale(0.6627,1)" font-size="18.3" font-weight="bold">1</text>
<text transform="translate(166.08,720.80) scale(1.1264,1)" font-size="18.3" font-weight="bold">9</text>
<text transform="translate(185.05,727.80) scale(1.0433,1)" font-size="18.3" font-weight="bold">10</text>
<text transform="translate(109.05,782.60) scale(0.9949,1)" font-size="22.6" fill="#fff" stroke="#e8e8e8" stroke-width="0.5">T=35</text>
</g>
<g><clipPath id="cl2"><rect x="255.9" y="642" width="146.5" height="144.1"/></clipPath>
<g clip-path="url(#cl2)"><g filter="url(#blur)">
<rect x="249.9" y="636" width="158.5" height="156.1" fill="#000"/>
<ellipse cx="328.4" cy="713.0" rx="46.5" ry="54.3" fill="url(#haze)"/>
<ellipse cx="336.5" cy="675.2" rx="12.1" ry="8.1" transform="rotate(20 336.5 675.2)" fill="url(#p_c)"/>
<ellipse cx="359.5" cy="683.3" rx="12.1" ry="8.6" transform="rotate(35 359.5 683.3)" fill="url(#p_c)"/>
<ellipse cx="345.7" cy="663.7" rx="10.8" ry="3.2" transform="rotate(20 345.7 663.7)" fill="url(#p_gd)"/>
<ellipse cx="334.1" cy="694.8" rx="10.8" ry="12.1" transform="rotate(20 334.1 694.8)" fill="url(#p_gc)"/>
<ellipse cx="352.6" cy="699.4" rx="9.4" ry="9.4" transform="rotate(0 352.6 699.4)" fill="url(#p_y)"/>
<ellipse cx="286.9" cy="713.2" rx="10.3" ry="9.4" transform="rotate(0 286.9 713.2)" fill="url(#p_g)"/>
<ellipse cx="323.8" cy="714.4" rx="9.4" ry="11.3" transform="rotate(0 323.8 714.4)" fill="url(#p_y)"/>
<ellipse cx="306.5" cy="724.8" rx="10.3" ry="10.3" transform="rotate(0 306.5 724.8)" fill="url(#p_g)"/>
<ellipse cx="297.3" cy="736.3" rx="11.3" ry="10.3" transform="rotate(0 297.3 736.3)" fill="url(#p_y)"/>
<ellipse cx="321.5" cy="744.4" rx="16.2" ry="13.5" transform="rotate(0 321.5 744.4)" fill="url(#p_gc)"/>
<ellipse cx="354.9" cy="735.1" rx="8.1" ry="6.7" transform="rotate(0 354.9 735.1)" fill="url(#p_g)"/>
<ellipse cx="369.9" cy="730.5" rx="6.7" ry="13.5" transform="rotate(0 369.9 730.5)" fill="url(#p_gd)"/>
<ellipse cx="313.4" cy="761.6" rx="13.5" ry="5.4" transform="rotate(0 313.4 761.6)" fill="url(#p_cd)"/>
<ellipse cx="344.5" cy="762.3" rx="10.8" ry="6.7" transform="rotate(0 344.5 762.3)" fill="url(#p_g)"/>
<ellipse cx="389.5" cy="702.9" rx="10.8" ry="12.1" transform="rotate(0 389.5 702.9)" fill="url(#p_b)"/>
</g><g filter="url(#warm)">
<ellipse cx="301.2" cy="669.4" rx="14.0" ry="7.6" transform="rotate(-15 301.2 669.4)" fill="url(#p_yo)"/>
<ellipse cx="304.2" cy="701.7" rx="10.3" ry="8.1" transform="rotate(-30 304.2 701.7)" fill="url(#p_yo)"/>
</g><g filter="url(#hot)">
<ellipse cx="291.5" cy="692.5" rx="10.3" ry="12.1" transform="rotate(0 291.5 692.5)" fill="url(#p_r)"/>
<ellipse cx="315.7" cy="685.6" rx="10.8" ry="11.3" transform="rotate(0 315.7 685.6)" fill="url(#p_o)"/>
<ellipse cx="368.7" cy="708.6" rx="10.3" ry="11.3" transform="rotate(0 368.7 708.6)" fill="url(#p_o)"/>
<ellipse cx="344.5" cy="721.3" rx="12.1" ry="12.9" transform="rotate(0 344.5 721.3)" fill="url(#p_o)"/>
<ellipse cx="345.7" cy="746.7" rx="8.1" ry="10.8" transform="rotate(0 345.7 746.7)" fill="url(#p_o)"/>
</g></g>
<text transform="translate(260.35,782.60) scale(1.0008,1)" font-size="22.6" fill="#fff" stroke="#e8e8e8" stroke-width="0.5">T=36</text>
</g>
<g><clipPath id="cl3"><rect x="407" y="642" width="146.7" height="144.1"/></clipPath>
<g clip-path="url(#cl3)"><g filter="url(#blur)">
<rect x="401" y="636" width="158.7" height="156.1" fill="#000"/>
<ellipse cx="479.4" cy="715.4" rx="46.8" ry="50.7" fill="url(#haze)"/>
<ellipse cx="453.5" cy="669.8" rx="15.2" ry="8.4" transform="rotate(-15 453.5 669.8)" fill="url(#p_y)"/>
<ellipse cx="488.1" cy="673.2" rx="14.2" ry="8.4" transform="rotate(20 488.1 673.2)" fill="url(#p_c)"/>
<ellipse cx="511.1" cy="683.3" rx="14.2" ry="8.4" transform="rotate(35 511.1 683.3)" fill="url(#p_c)"/>
<ellipse cx="466.5" cy="683.3" rx="10.8" ry="11.8" transform="rotate(0 466.5 683.3)" fill="url(#p_y)"/>
<ellipse cx="485.2" cy="692.0" rx="10.8" ry="12.8" transform="rotate(20 485.2 692.0)" fill="url(#p_g)"/>
<ellipse cx="456.4" cy="700.6" rx="10.1" ry="8.4" transform="rotate(0 456.4 700.6)" fill="url(#p_y)"/>
<ellipse cx="502.5" cy="700.6" rx="10.1" ry="11.8" transform="rotate(0 502.5 700.6)" fill="url(#p_y)"/>
<ellipse cx="519.8" cy="707.8" rx="10.8" ry="11.8" transform="rotate(0 519.8 707.8)" fill="url(#p_y)"/>
<ellipse cx="437.6" cy="713.6" rx="11.8" ry="10.1" transform="rotate(0 437.6 713.6)" fill="url(#p_g)"/>
<ellipse cx="475.1" cy="712.1" rx="9.4" ry="11.8" transform="rotate(0 475.1 712.1)" fill="url(#p_gb)"/>
<ellipse cx="496.7" cy="719.3" rx="12.8" ry="14.2" transform="rotate(0 496.7 719.3)" fill="url(#p_y)"/>
<ellipse cx="459.3" cy="722.2" rx="10.8" ry="10.1" transform="rotate(0 459.3 722.2)" fill="url(#p_g)"/>
<ellipse cx="447.7" cy="735.2" rx="11.8" ry="10.8" transform="rotate(0 447.7 735.2)" fill="url(#p_gb)"/>
<ellipse cx="473.7" cy="742.4" rx="16.9" ry="13.5" transform="rotate(0 473.7 742.4)" fill="url(#p_gc)"/>
<ellipse cx="499.6" cy="745.3" rx="9.4" ry="11.8" transform="rotate(0 499.6 745.3)" fill="url(#p_y)"/>
<ellipse cx="521.2" cy="729.4" rx="7.4" ry="13.5" transform="rotate(0 521.2 729.4)" fill="url(#p_gc)"/>
<ellipse cx="467.9" cy="761.1" rx="15.2" ry="6.1" transform="rotate(0 467.9 761.1)" fill="url(#p_c)"/>
<ellipse cx="496.7" cy="761.1" rx="11.8" ry="6.7" transform="rotate(0 496.7 761.1)" fill="url(#p_gc)"/>
<ellipse cx="539.9" cy="700.6" rx="13.5" ry="13.5" transform="rotate(0 539.9 700.6)" fill="url(#p_b)"/>
<ellipse cx="505.4" cy="732.3" rx="6.7" ry="6.7" transform="rotate(0 505.4 732.3)" fill="url(#p_g)"/>
</g><g filter="url(#warm)">
</g><g filter="url(#hot)">
<ellipse cx="440.5" cy="692.0" rx="10.1" ry="13.5" transform="rotate(0 440.5 692.0)" fill="url(#p_o)"/>
</g></g>
<text transform="translate(411.75,782.60) scale(1.0030,1)" font-size="22.6" fill="#fff" stroke="#e8e8e8" stroke-width="0.5">T=37</text>
</g>
<g><clipPath id="cl4"><rect x="104.9" y="805.1" width="144.1" height="146.7"/></clipPath>
<g clip-path="url(#cl4)"><g filter="url(#blur)">
<rect x="98.9" y="799.1" width="156.1" height="158.7" fill="#000"/>
<ellipse cx="183.0" cy="883.6" rx="50.0" ry="50.5" fill="url(#haze)"/>
<ellipse cx="139.7" cy="843.8" rx="10.2" ry="13.2" transform="rotate(0 139.7 843.8)" fill="url(#p_gb)"/>
<ellipse cx="154.2" cy="838.0" rx="7.3" ry="11.7" transform="rotate(0 154.2 838.0)" fill="url(#p_gd)"/>
<ellipse cx="161.1" cy="856.5" rx="10.2" ry="11.1" transform="rotate(0 161.1 856.5)" fill="url(#p_g)"/>
<ellipse cx="180.7" cy="862.2" rx="10.2" ry="12.3" transform="rotate(0 180.7 862.2)" fill="url(#p_g)"/>
<ellipse cx="189.9" cy="841.5" rx="14.6" ry="8.8" transform="rotate(35 189.9 841.5)" fill="url(#p_c)"/>
<ellipse cx="209.5" cy="850.7" rx="16.1" ry="8.2" transform="rotate(35 209.5 850.7)" fill="url(#p_gc)"/>
<ellipse cx="155.3" cy="876.1" rx="11.1" ry="9.4" transform="rotate(0 155.3 876.1)" fill="url(#p_gd)"/>
<ellipse cx="172.6" cy="884.1" rx="9.4" ry="11.1" transform="rotate(0 172.6 884.1)" fill="url(#p_gc)"/>
<ellipse cx="195.7" cy="884.1" rx="11.7" ry="13.2" transform="rotate(0 195.7 884.1)" fill="url(#p_g)"/>
<ellipse cx="204.9" cy="868.0" rx="16.1" ry="8.8" transform="rotate(-20 204.9 868.0)" fill="url(#p_gc)"/>
<ellipse cx="216.4" cy="880.7" rx="10.2" ry="13.2" transform="rotate(0 216.4 880.7)" fill="url(#p_gc)"/>
<ellipse cx="228.0" cy="888.8" rx="5.9" ry="17.6" transform="rotate(10 228.0 888.8)" fill="url(#p_y)"/>
<ellipse cx="142.7" cy="888.8" rx="11.1" ry="13.2" transform="rotate(0 142.7 888.8)" fill="url(#p_gc)"/>
<ellipse cx="154.2" cy="901.4" rx="14.1" ry="11.7" transform="rotate(35 154.2 901.4)" fill="url(#p_y)"/>
<ellipse cx="174.9" cy="909.5" rx="12.3" ry="11.1" transform="rotate(0 174.9 909.5)" fill="url(#p_g)"/>
<ellipse cx="199.1" cy="906.1" rx="11.7" ry="11.1" transform="rotate(0 199.1 906.1)" fill="url(#p_g)"/>
<ellipse cx="181.8" cy="919.9" rx="11.7" ry="7.3" transform="rotate(0 181.8 919.9)" fill="url(#p_gc)"/>
<ellipse cx="149.6" cy="917.6" rx="10.2" ry="7.3" transform="rotate(0 149.6 917.6)" fill="url(#p_cd)"/>
<ellipse cx="161.1" cy="929.1" rx="11.7" ry="5.9" transform="rotate(0 161.1 929.1)" fill="url(#p_gd)"/>
<ellipse cx="119.6" cy="881.8" rx="2.9" ry="5.3" transform="rotate(0 119.6 881.8)" fill="url(#p_gd)"/>
<ellipse cx="173.8" cy="848.4" rx="8.8" ry="8.8" transform="rotate(0 173.8 848.4)" fill="url(#p_cd)"/>
</g><g filter="url(#warm)">
<ellipse cx="138.0" cy="864.6" rx="10.2" ry="12.3" transform="rotate(0 138.0 864.6)" fill="url(#p_rd)"/>
</g><g filter="url(#hot)">
</g></g>
<text transform="translate(135.77,852.40) scale(0.7557,1)" font-size="18.3" font-weight="bold">1</text>
<text transform="translate(166.94,890.60) scale(1.2044,1)" font-size="18.3" font-weight="bold">9</text>
<text transform="translate(185.20,891.00) scale(1.0056,1)" font-size="18.3" font-weight="bold">10</text>
<text transform="translate(109.85,947.60) scale(1.0011,1)" font-size="22.6" fill="#fff" stroke="#e8e8e8" stroke-width="0.5">T=72</text>
</g>
<g><clipPath id="cl5"><rect x="255.9" y="805.1" width="146.5" height="146.7"/></clipPath>
<g clip-path="url(#cl5)"><g filter="url(#blur)">
<rect x="249.9" y="799.1" width="158.5" height="158.7" fill="#000"/>
<ellipse cx="335.3" cy="885.9" rx="50.0" ry="51.7" fill="url(#haze)"/>
<ellipse cx="293.8" cy="845.0" rx="10.2" ry="14.1" transform="rotate(0 293.8 845.0)" fill="url(#p_y)"/>
<ellipse cx="307.6" cy="839.2" rx="7.3" ry="10.2" transform="rotate(0 307.6 839.2)" fill="url(#p_gd)"/>
<ellipse cx="313.4" cy="858.8" rx="10.2" ry="11.1" transform="rotate(0 313.4 858.8)" fill="url(#p_gc)"/>
<ellipse cx="333.0" cy="863.4" rx="10.2" ry="14.1" transform="rotate(0 333.0 863.4)" fill="url(#p_g)"/>
<ellipse cx="341.1" cy="841.5" rx="13.2" ry="8.8" transform="rotate(40 341.1 841.5)" fill="url(#p_c)"/>
<ellipse cx="361.8" cy="851.9" rx="16.1" ry="8.2" transform="rotate(35 361.8 851.9)" fill="url(#p_g)"/>
<ellipse cx="306.5" cy="878.4" rx="11.1" ry="9.4" transform="rotate(0 306.5 878.4)" fill="url(#p_gd)"/>
<ellipse cx="356.1" cy="866.9" rx="13.2" ry="7.3" transform="rotate(-20 356.1 866.9)" fill="url(#p_c)"/>
<ellipse cx="367.6" cy="883.0" rx="8.8" ry="14.6" transform="rotate(10 367.6 883.0)" fill="url(#p_y)"/>
<ellipse cx="380.3" cy="886.5" rx="5.9" ry="17.6" transform="rotate(0 380.3 886.5)" fill="url(#p_g)"/>
<ellipse cx="293.8" cy="888.8" rx="11.1" ry="13.2" transform="rotate(0 293.8 888.8)" fill="url(#p_gc)"/>
<ellipse cx="326.1" cy="911.8" rx="11.7" ry="12.3" transform="rotate(0 326.1 911.8)" fill="url(#p_g)"/>
<ellipse cx="299.6" cy="922.2" rx="10.2" ry="8.8" transform="rotate(0 299.6 922.2)" fill="url(#p_gd)"/>
<ellipse cx="309.9" cy="932.6" rx="10.2" ry="4.4" transform="rotate(0 309.9 932.6)" fill="url(#p_gd)"/>
<ellipse cx="327.2" cy="849.6" rx="7.3" ry="7.3" transform="rotate(0 327.2 849.6)" fill="url(#p_gd)"/>
</g><g filter="url(#warm)">
<ellipse cx="324.9" cy="885.3" rx="9.4" ry="12.3" transform="rotate(0 324.9 885.3)" fill="url(#p_yo)"/>
</g><g filter="url(#hot)">
<ellipse cx="290.3" cy="866.9" rx="10.2" ry="12.3" transform="rotate(0 290.3 866.9)" fill="url(#p_r)"/>
<ellipse cx="348.0" cy="886.5" rx="13.2" ry="14.6" transform="rotate(0 348.0 886.5)" fill="url(#p_r)"/>
<ellipse cx="306.5" cy="907.2" rx="14.6" ry="13.2" transform="rotate(30 306.5 907.2)" fill="url(#p_r)"/>
<ellipse cx="352.6" cy="907.2" rx="12.3" ry="10.2" transform="rotate(0 352.6 907.2)" fill="url(#p_r)"/>
<ellipse cx="337.6" cy="923.3" rx="8.2" ry="6.4" transform="rotate(0 337.6 923.3)" fill="url(#p_o)"/>
</g></g>
<text transform="translate(260.35,947.60) scale(1.0008,1)" font-size="22.6" fill="#fff" stroke="#e8e8e8" stroke-width="0.5">T=73</text>
</g>
<g><clipPath id="cl6"><rect x="407" y="805.1" width="146.7" height="146.7"/></clipPath>
<g clip-path="url(#cl6)"><g filter="url(#blur)">
<rect x="401" y="799.1" width="158.7" height="158.7" fill="#000"/>
<ellipse cx="487.0" cy="884.7" rx="49.4" ry="51.7" fill="url(#haze)"/>
<ellipse cx="445.0" cy="846.1" rx="11.1" ry="14.1" transform="rotate(0 445.0 846.1)" fill="url(#p_gb)"/>
<ellipse cx="459.9" cy="838.0" rx="7.3" ry="8.8" transform="rotate(0 459.9 838.0)" fill="url(#p_gd)"/>
<ellipse cx="442.7" cy="866.9" rx="9.4" ry="10.2" transform="rotate(0 442.7 866.9)" fill="url(#p_gd)"/>
<ellipse cx="465.7" cy="859.9" rx="10.2" ry="10.2" transform="rotate(0 465.7 859.9)" fill="url(#p_g)"/>
<ellipse cx="485.3" cy="863.4" rx="10.2" ry="13.2" transform="rotate(0 485.3 863.4)" fill="url(#p_gc)"/>
<ellipse cx="494.5" cy="842.7" rx="14.6" ry="9.4" transform="rotate(40 494.5 842.7)" fill="url(#p_c)"/>
<ellipse cx="515.3" cy="854.2" rx="14.6" ry="8.2" transform="rotate(40 515.3 854.2)" fill="url(#p_g)"/>
<ellipse cx="457.6" cy="878.4" rx="10.2" ry="8.8" transform="rotate(0 457.6 878.4)" fill="url(#p_gd)"/>
<ellipse cx="476.1" cy="885.3" rx="8.8" ry="12.3" transform="rotate(0 476.1 885.3)" fill="url(#p_y)"/>
<ellipse cx="506.1" cy="869.2" rx="11.7" ry="7.3" transform="rotate(0 506.1 869.2)" fill="url(#p_cd)"/>
<ellipse cx="518.7" cy="881.8" rx="9.4" ry="14.1" transform="rotate(0 518.7 881.8)" fill="url(#p_g)"/>
<ellipse cx="531.4" cy="886.5" rx="6.4" ry="16.1" transform="rotate(0 531.4 886.5)" fill="url(#p_g)"/>
<ellipse cx="446.1" cy="888.8" rx="11.7" ry="12.3" transform="rotate(0 446.1 888.8)" fill="url(#p_gc)"/>
<ellipse cx="478.4" cy="913.0" rx="11.1" ry="12.3" transform="rotate(0 478.4 913.0)" fill="url(#p_g)"/>
<ellipse cx="501.4" cy="906.1" rx="10.2" ry="8.2" transform="rotate(0 501.4 906.1)" fill="url(#p_gd)"/>
<ellipse cx="515.3" cy="910.7" rx="11.7" ry="8.8" transform="rotate(-30 515.3 910.7)" fill="url(#p_g)"/>
<ellipse cx="453.0" cy="921.0" rx="11.7" ry="8.2" transform="rotate(0 453.0 921.0)" fill="url(#p_gd)"/>
<ellipse cx="463.4" cy="931.4" rx="8.8" ry="3.5" transform="rotate(0 463.4 931.4)" fill="url(#p_gd)"/>
</g><g filter="url(#warm)">
<ellipse cx="459.9" cy="906.1" rx="14.1" ry="12.3" transform="rotate(30 459.9 906.1)" fill="url(#p_yo)"/>
<ellipse cx="488.8" cy="924.5" rx="7.3" ry="5.3" transform="rotate(0 488.8 924.5)" fill="url(#p_rd)"/>
</g><g filter="url(#hot)">
<ellipse cx="498.0" cy="887.6" rx="12.3" ry="14.1" transform="rotate(0 498.0 887.6)" fill="url(#p_o)"/>
</g></g>
<text transform="translate(411.75,947.60) scale(0.9981,1)" font-size="22.6" fill="#fff" stroke="#e8e8e8" stroke-width="0.5">T=74</text>
</g>
</g>
<g id="panelE">
<text transform="translate(-0.17,1030.40) scale(0.9908,1)" font-size="40">E</text>
<text transform="translate(52.10,1170.59) rotate(-90) scale(0.9909,1)" font-size="20">correlation value</text>
<line x1="100" x2="277" y1="1203.1" y2="1203.1" stroke="#e2e2e2" stroke-width="0.8"/>
<line x1="309.4" x2="485" y1="1201.2" y2="1201.2" stroke="#e2e2e2" stroke-width="0.8"/>
<g>
<rect x="105.3" y="1030.8" width="160.3" height="142.5" fill="#fff" stroke="#9a9a9a" stroke-width="0.9"/>
<rect x="110.40" y="1101.60" width="1.0" height="5.30" fill="#a0a0a0"/>
<rect x="112.01" y="1101.60" width="1.0" height="3.98" fill="#b4b4b4"/>
<rect x="113.63" y="1101.60" width="1.0" height="3.31" fill="#a0a0a0"/>
<rect x="115.25" y="1101.60" width="1.0" height="2.65" fill="#9a9a9a"/>
<rect x="116.87" y="1101.60" width="1.0" height="2.65" fill="#9a9a9a"/>
<rect x="118.48" y="1101.60" width="1.0" height="1.99" fill="#b4b4b4"/>
<rect x="120.10" y="1101.60" width="1.0" height="1.99" fill="#a0a0a0"/>
<rect x="121.72" y="1101.60" width="1.0" height="2.65" fill="#a0a0a0"/>
<rect x="123.34" y="1101.60" width="1.0" height="5.30" fill="#b4b4b4"/>
<rect x="124.95" y="1101.60" width="1.0" height="7.96" fill="#b4b4b4"/>
<rect x="126.57" y="1101.60" width="1.0" height="11.93" fill="#a8a8a8"/>
<rect x="128.19" y="1101.60" width="1.0" height="17.90" fill="#b4b4b4"/>
<rect x="129.81" y="1101.60" width="1.0" height="21.88" fill="#a8a8a8"/>
<rect x="131.42" y="1101.60" width="1.0" height="17.90" fill="#a8a8a8"/>
<rect x="133.04" y="1101.60" width="1.0" height="16.57" fill="#9a9a9a"/>
<rect x="134.66" y="1101.60" width="1.0" height="19.89" fill="#707070"/>
<rect x="136.28" y="1101.60" width="1.0" height="19.89" fill="#b4b4b4"/>
<rect x="137.89" y="1101.60" width="1.0" height="16.57" fill="#a8a8a8"/>
<rect x="139.51" y="1101.60" width="1.0" height="10.61" fill="#707070"/>
<rect x="141.13" y="1101.60" width="1.0" height="17.90" fill="#a0a0a0"/>
<rect x="142.75" y="1101.60" width="1.0" height="9.28" fill="#707070"/>
<rect x="144.36" y="1101.60" width="1.0" height="5.30" fill="#707070"/>
<rect x="145.98" y="1101.60" width="1.0" height="2.65" fill="#707070"/>
<rect x="147.60" y="1101.60" width="1.0" height="0.66" fill="#a8a8a8"/>
<rect x="149.22" y="1100.94" width="1.0" height="0.66" fill="#a8a8a8"/>
<rect x="150.83" y="1100.27" width="1.0" height="1.33" fill="#a0a0a0"/>
<rect x="152.45" y="1100.94" width="1.0" height="0.66" fill="#b4b4b4"/>
<rect x="154.07" y="1099.61" width="1.0" height="1.99" fill="#a0a0a0"/>
<rect x="155.69" y="1098.95" width="1.0" height="2.65" fill="#b4b4b4"/>
<rect x="157.30" y="1100.94" width="1.0" height="0.66" fill="#9a9a9a"/>
<rect x="158.92" y="1100.94" width="1.0" height="0.66" fill="#b4b4b4"/>
<rect x="160.54" y="1101.60" width="1.0" height="5.30" fill="#a0a0a0"/>
<rect x="162.16" y="1096.96" width="1.0" height="4.64" fill="#9a9a9a"/>
<rect x="163.77" y="1096.30" width="1.0" height="5.30" fill="#b4b4b4"/>
<rect x="165.39" y="1090.99" width="1.0" height="10.61" fill="#a8a8a8"/>
<rect x="167.01" y="1093.31" width="1.0" height="8.29" fill="#707070"/>
<rect x="168.62" y="1094.31" width="1.0" height="7.29" fill="#a0a0a0"/>
<rect x="170.24" y="1094.97" width="1.0" height="6.63" fill="#a0a0a0"/>
<rect x="171.86" y="1089.67" width="1.0" height="11.93" fill="#a0a0a0"/>
<rect x="173.48" y="1087.68" width="1.0" height="13.92" fill="#707070"/>
<rect x="175.09" y="1084.36" width="1.0" height="17.24" fill="#a0a0a0"/>
<rect x="176.71" y="1082.37" width="1.0" height="19.23" fill="#a0a0a0"/>
<rect x="178.33" y="1085.02" width="1.0" height="16.57" fill="#707070"/>
<rect x="179.95" y="1078.39" width="1.0" height="23.20" fill="#a0a0a0"/>
<rect x="181.56" y="1081.05" width="1.0" height="20.55" fill="#b4b4b4"/>
<rect x="183.18" y="1077.07" width="1.0" height="24.53" fill="#a0a0a0"/>
<rect x="184.80" y="1053.20" width="1.0" height="48.40" fill="#9a9a9a"/>
<rect x="186.42" y="1073.09" width="1.0" height="28.51" fill="#a0a0a0"/>
<rect x="188.04" y="1075.08" width="1.0" height="26.52" fill="#707070"/>
<rect x="189.65" y="1081.71" width="1.0" height="19.89" fill="#b4b4b4"/>
<rect x="191.27" y="1083.70" width="1.0" height="17.90" fill="#b4b4b4"/>
<rect x="192.89" y="1082.37" width="1.0" height="19.23" fill="#b4b4b4"/>
<rect x="194.51" y="1087.68" width="1.0" height="13.92" fill="#a0a0a0"/>
<rect x="196.12" y="1091.99" width="1.0" height="9.61" fill="#a8a8a8"/>
<rect x="197.74" y="1084.36" width="1.0" height="17.24" fill="#9a9a9a"/>
<rect x="199.36" y="1094.97" width="1.0" height="6.63" fill="#a0a0a0"/>
<rect x="200.98" y="1093.64" width="1.0" height="7.96" fill="#707070"/>
<rect x="202.59" y="1092.32" width="1.0" height="9.28" fill="#707070"/>
<rect x="204.21" y="1094.97" width="1.0" height="6.63" fill="#b4b4b4"/>
<rect x="205.83" y="1096.30" width="1.0" height="5.30" fill="#a0a0a0"/>
<rect x="207.45" y="1092.32" width="1.0" height="9.28" fill="#9a9a9a"/>
<rect x="209.06" y="1091.99" width="1.0" height="9.61" fill="#a0a0a0"/>
<rect x="210.68" y="1094.97" width="1.0" height="6.63" fill="#a8a8a8"/>
<rect x="212.30" y="1084.36" width="1.0" height="17.24" fill="#a8a8a8"/>
<rect x="213.92" y="1087.68" width="1.0" height="13.92" fill="#9a9a9a"/>
<rect x="215.53" y="1088.67" width="1.0" height="12.93" fill="#a0a0a0"/>
<rect x="217.15" y="1093.64" width="1.0" height="7.96" fill="#a8a8a8"/>
<rect x="218.77" y="1101.60" width="1.0" height="2.65" fill="#b4b4b4"/>
<rect x="220.39" y="1101.60" width="1.0" height="4.64" fill="#707070"/>
<rect x="222.00" y="1101.60" width="1.0" height="5.30" fill="#707070"/>
<rect x="223.62" y="1101.60" width="1.0" height="2.65" fill="#a0a0a0"/>
<rect x="225.24" y="1101.60" width="1.0" height="3.98" fill="#a0a0a0"/>
<rect x="226.86" y="1101.60" width="1.0" height="9.28" fill="#a8a8a8"/>
<rect x="228.47" y="1101.60" width="1.0" height="12.93" fill="#9a9a9a"/>
<rect x="230.09" y="1101.60" width="1.0" height="11.93" fill="#9a9a9a"/>
<rect x="231.71" y="1101.60" width="1.0" height="14.25" fill="#9a9a9a"/>
<rect x="233.33" y="1101.60" width="1.0" height="15.58" fill="#b4b4b4"/>
<rect x="234.94" y="1101.60" width="1.0" height="11.93" fill="#a0a0a0"/>
<rect x="236.56" y="1101.60" width="1.0" height="12.93" fill="#b4b4b4"/>
<rect x="238.18" y="1101.60" width="1.0" height="14.25" fill="#b4b4b4"/>
<rect x="239.80" y="1101.60" width="1.0" height="11.93" fill="#a8a8a8"/>
<rect x="241.41" y="1101.60" width="1.0" height="7.96" fill="#b4b4b4"/>
<rect x="243.03" y="1101.60" width="1.0" height="6.63" fill="#707070"/>
<rect x="244.65" y="1101.60" width="1.0" height="6.63" fill="#b4b4b4"/>
<rect x="246.27" y="1101.60" width="1.0" height="6.63" fill="#9a9a9a"/>
<rect x="247.88" y="1101.60" width="1.0" height="6.63" fill="#9a9a9a"/>
<rect x="249.50" y="1101.60" width="1.0" height="6.63" fill="#9a9a9a"/>
<rect x="251.12" y="1101.60" width="1.0" height="7.96" fill="#707070"/>
<rect x="252.74" y="1101.60" width="1.0" height="9.28" fill="#a8a8a8"/>
<rect x="254.35" y="1101.60" width="1.0" height="7.96" fill="#707070"/>
<rect x="255.97" y="1101.60" width="1.0" height="9.28" fill="#a0a0a0"/>
<rect x="257.59" y="1101.60" width="1.0" height="7.96" fill="#b4b4b4"/>
<rect x="259.21" y="1101.60" width="1.0" height="6.63" fill="#9a9a9a"/>
<line x1="105.3" x2="265.6" y1="1101.6" y2="1101.6" stroke="#555" stroke-width="0.9"/>
<line x1="105.3" x2="265.6" y1="1084.3" y2="1084.3" stroke="#6c6cff" stroke-width="0.7" stroke-dasharray="2 1.6"/>
<line x1="105.3" x2="265.6" y1="1119.0" y2="1119.0" stroke="#6c6cff" stroke-width="0.7" stroke-dasharray="2 1.6"/>
<line x1="120.6" x2="120.6" y1="1173.3" y2="1175.8" stroke="#777" stroke-width="0.8"/>
<line x1="153.0" x2="153.0" y1="1173.3" y2="1175.8" stroke="#777" stroke-width="0.8"/>
<line x1="185.3" x2="185.3" y1="1173.3" y2="1175.8" stroke="#777" stroke-width="0.8"/>
<line x1="217.7" x2="217.7" y1="1173.3" y2="1175.8" stroke="#777" stroke-width="0.8"/>
<line x1="250.0" x2="250.0" y1="1173.3" y2="1175.8" stroke="#777" stroke-width="0.8"/>
<line x1="101.3" x2="105.3" y1="1035.3" y2="1035.3" stroke="#888" stroke-width="0.8"/>
<line x1="101.3" x2="105.3" y1="1068.4" y2="1068.4" stroke="#888" stroke-width="0.8"/>
<line x1="101.3" x2="105.3" y1="1101.6" y2="1101.6" stroke="#888" stroke-width="0.8"/>
<line x1="101.3" x2="105.3" y1="1134.8" y2="1134.8" stroke="#888" stroke-width="0.8"/>
<line x1="101.3" x2="105.3" y1="1167.9" y2="1167.9" stroke="#888" stroke-width="0.8"/>
<rect x="105.3" y="1030.8" width="85.6" height="10.3" fill="#fff" stroke="#777" stroke-width="0.7"/>
<text x="113.3" y="1037.8" font-size="3.9" fill="#444" textLength="71.6" lengthAdjust="spacingAndGlyphs">Max Cor. Value = 0.7259 (Lag = 0 )</text>
</g>
<text transform="translate(132.20,1025.50) scale(1.0062,1)" font-size="20">cell 1 and 9</text>
<text transform="translate(69.34,1038.90) scale(1.0876,1)" font-size="17.9">1.0</text>
<text transform="translate(69.11,1071.80) scale(1.1012,1)" font-size="17.9">0.5</text>
<text transform="translate(78.50,1104.90) scale(1.1173,1)" font-size="17.9">0</text>
<text transform="translate(64.79,1138.90) scale(1.1296,1)" font-size="17.9">-0.5</text>
<text transform="translate(64.79,1171.10) scale(1.1261,1)" font-size="17.9">-1.0</text>
<text transform="translate(105.08,1201.10) scale(1.0956,1)" font-size="18.6">-40</text>
<text transform="translate(139.58,1201.10) scale(1.0995,1)" font-size="18.6">-20</text>
<text transform="translate(180.07,1201.10) scale(1.1196,1)" font-size="18.6">0</text>
<text transform="translate(207.96,1201.10) scale(1.1160,1)" font-size="18.6">20</text>
<text transform="translate(242.29,1201.10) scale(1.1046,1)" font-size="18.6">40</text>
<text transform="translate(145.30,1229.10) scale(0.9970,1)" font-size="20">time lag</text>
<text transform="translate(93.00,1273.20) scale(1.0010,1)" font-size="20">r = 0.73 (time lag=0)</text>
<g>
<rect x="312.4" y="1030.2" width="160.1" height="142.3" fill="#fff" stroke="#9a9a9a" stroke-width="0.9"/>
<rect x="317.79" y="1101.20" width="1.0" height="5.97" fill="#a8a8a8"/>
<rect x="319.41" y="1101.20" width="1.0" height="7.29" fill="#707070"/>
<rect x="321.03" y="1101.20" width="1.0" height="7.29" fill="#9a9a9a"/>
<rect x="322.65" y="1101.20" width="1.0" height="7.96" fill="#a8a8a8"/>
<rect x="324.26" y="1101.20" width="1.0" height="7.29" fill="#b4b4b4"/>
<rect x="325.88" y="1101.20" width="1.0" height="5.97" fill="#a8a8a8"/>
<rect x="327.50" y="1101.20" width="1.0" height="7.29" fill="#a8a8a8"/>
<rect x="329.12" y="1101.20" width="1.0" height="7.96" fill="#707070"/>
<rect x="330.74" y="1101.20" width="1.0" height="8.62" fill="#707070"/>
<rect x="332.35" y="1101.20" width="1.0" height="9.28" fill="#9a9a9a"/>
<rect x="333.97" y="1101.20" width="1.0" height="12.60" fill="#b4b4b4"/>
<rect x="335.59" y="1101.20" width="1.0" height="13.92" fill="#b4b4b4"/>
<rect x="337.20" y="1101.20" width="1.0" height="10.94" fill="#a8a8a8"/>
<rect x="338.82" y="1101.20" width="1.0" height="12.60" fill="#9a9a9a"/>
<rect x="340.44" y="1101.20" width="1.0" height="13.26" fill="#b4b4b4"/>
<rect x="342.06" y="1101.20" width="1.0" height="10.94" fill="#b4b4b4"/>
<rect x="343.68" y="1101.20" width="1.0" height="11.93" fill="#a8a8a8"/>
<rect x="345.29" y="1101.20" width="1.0" height="9.28" fill="#a8a8a8"/>
<rect x="346.91" y="1101.20" width="1.0" height="7.96" fill="#b4b4b4"/>
<rect x="348.53" y="1101.20" width="1.0" height="5.97" fill="#9a9a9a"/>
<rect x="350.14" y="1101.20" width="1.0" height="3.31" fill="#b4b4b4"/>
<rect x="351.76" y="1101.20" width="1.0" height="1.33" fill="#b4b4b4"/>
<rect x="353.38" y="1101.20" width="1.0" height="0.66" fill="#b4b4b4"/>
<rect x="355.00" y="1101.20" width="1.0" height="0.66" fill="#a8a8a8"/>
<rect x="356.62" y="1101.20" width="1.0" height="0.99" fill="#9a9a9a"/>
<rect x="358.23" y="1100.54" width="1.0" height="0.66" fill="#a8a8a8"/>
<rect x="359.85" y="1095.23" width="1.0" height="5.97" fill="#707070"/>
<rect x="361.47" y="1090.26" width="1.0" height="10.94" fill="#a8a8a8"/>
<rect x="363.08" y="1086.28" width="1.0" height="14.92" fill="#a8a8a8"/>
<rect x="364.70" y="1083.30" width="1.0" height="17.90" fill="#9a9a9a"/>
<rect x="366.32" y="1088.60" width="1.0" height="12.60" fill="#9a9a9a"/>
<rect x="367.94" y="1093.24" width="1.0" height="7.96" fill="#707070"/>
<rect x="369.56" y="1095.23" width="1.0" height="5.97" fill="#a8a8a8"/>
<rect x="371.17" y="1096.56" width="1.0" height="4.64" fill="#a0a0a0"/>
<rect x="372.79" y="1091.92" width="1.0" height="9.28" fill="#b4b4b4"/>
<rect x="374.41" y="1091.92" width="1.0" height="9.28" fill="#a8a8a8"/>
<rect x="376.02" y="1093.24" width="1.0" height="7.96" fill="#707070"/>
<rect x="377.64" y="1092.58" width="1.0" height="8.62" fill="#b4b4b4"/>
<rect x="379.26" y="1087.94" width="1.0" height="13.26" fill="#a8a8a8"/>
<rect x="380.88" y="1091.92" width="1.0" height="9.28" fill="#a8a8a8"/>
<rect x="382.50" y="1085.62" width="1.0" height="15.58" fill="#a0a0a0"/>
<rect x="384.11" y="1078.00" width="1.0" height="23.20" fill="#9a9a9a"/>
<rect x="385.73" y="1077.33" width="1.0" height="23.87" fill="#a8a8a8"/>
<rect x="387.35" y="1077.33" width="1.0" height="23.87" fill="#9a9a9a"/>
<rect x="388.96" y="1074.68" width="1.0" height="26.52" fill="#a0a0a0"/>
<rect x="390.58" y="1071.37" width="1.0" height="29.84" fill="#a8a8a8"/>
<rect x="392.20" y="1049.49" width="1.0" height="51.71" fill="#a8a8a8"/>
<rect x="393.82" y="1068.05" width="1.0" height="33.15" fill="#707070"/>
<rect x="395.44" y="1083.96" width="1.0" height="17.24" fill="#a8a8a8"/>
<rect x="397.05" y="1080.32" width="1.0" height="20.88" fill="#a8a8a8"/>
<rect x="398.67" y="1085.62" width="1.0" height="15.58" fill="#a8a8a8"/>
<rect x="400.29" y="1087.28" width="1.0" height="13.92" fill="#a8a8a8"/>
<rect x="401.90" y="1089.60" width="1.0" height="11.60" fill="#707070"/>
<rect x="403.52" y="1094.57" width="1.0" height="6.63" fill="#9a9a9a"/>
<rect x="405.14" y="1095.23" width="1.0" height="5.97" fill="#a8a8a8"/>
<rect x="406.76" y="1100.54" width="1.0" height="0.66" fill="#a0a0a0"/>
<rect x="408.38" y="1101.20" width="1.0" height="4.64" fill="#b4b4b4"/>
<rect x="409.99" y="1095.23" width="1.0" height="5.97" fill="#9a9a9a"/>
<rect x="411.61" y="1093.24" width="1.0" height="7.96" fill="#a0a0a0"/>
<rect x="413.23" y="1095.90" width="1.0" height="5.30" fill="#a0a0a0"/>
<rect x="414.84" y="1098.55" width="1.0" height="2.65" fill="#a0a0a0"/>
<rect x="416.46" y="1101.20" width="1.0" height="2.65" fill="#a0a0a0"/>
<rect x="418.08" y="1094.57" width="1.0" height="6.63" fill="#b4b4b4"/>
<rect x="419.70" y="1099.87" width="1.0" height="1.33" fill="#707070"/>
<rect x="421.31" y="1099.21" width="1.0" height="1.99" fill="#707070"/>
<rect x="422.93" y="1098.55" width="1.0" height="2.65" fill="#9a9a9a"/>
<rect x="424.55" y="1100.54" width="1.0" height="0.66" fill="#b4b4b4"/>
<rect x="426.17" y="1101.20" width="1.0" height="0.66" fill="#a0a0a0"/>
<rect x="427.78" y="1101.20" width="1.0" height="1.33" fill="#9a9a9a"/>
<rect x="429.40" y="1101.20" width="1.0" height="3.31" fill="#9a9a9a"/>
<rect x="431.02" y="1101.20" width="1.0" height="4.64" fill="#9a9a9a"/>
<rect x="432.64" y="1101.20" width="1.0" height="5.97" fill="#b4b4b4"/>
<rect x="434.25" y="1101.20" width="1.0" height="9.28" fill="#9a9a9a"/>
<rect x="435.87" y="1101.20" width="1.0" height="11.93" fill="#b4b4b4"/>
<rect x="437.49" y="1101.20" width="1.0" height="12.60" fill="#a8a8a8"/>
<rect x="439.11" y="1101.20" width="1.0" height="14.92" fill="#a8a8a8"/>
<rect x="440.72" y="1101.20" width="1.0" height="13.92" fill="#707070"/>
<rect x="442.34" y="1101.20" width="1.0" height="21.22" fill="#b4b4b4"/>
<rect x="443.96" y="1101.20" width="1.0" height="16.24" fill="#a8a8a8"/>
<rect x="445.58" y="1101.20" width="1.0" height="13.92" fill="#a8a8a8"/>
<rect x="447.19" y="1101.20" width="1.0" height="23.20" fill="#9a9a9a"/>
<rect x="448.81" y="1101.20" width="1.0" height="16.24" fill="#a8a8a8"/>
<rect x="450.43" y="1101.20" width="1.0" height="5.97" fill="#b4b4b4"/>
<rect x="452.05" y="1101.20" width="1.0" height="2.65" fill="#a8a8a8"/>
<rect x="453.66" y="1101.20" width="1.0" height="1.33" fill="#a8a8a8"/>
<rect x="455.28" y="1101.20" width="1.0" height="0.66" fill="#a8a8a8"/>
<rect x="456.90" y="1101.20" width="1.0" height="0.66" fill="#a0a0a0"/>
<rect x="458.52" y="1101.20" width="1.0" height="0.99" fill="#a8a8a8"/>
<rect x="460.13" y="1101.20" width="1.0" height="1.33" fill="#9a9a9a"/>
<rect x="461.75" y="1101.20" width="1.0" height="2.65" fill="#707070"/>
<rect x="463.37" y="1101.20" width="1.0" height="1.33" fill="#707070"/>
<rect x="464.99" y="1101.20" width="1.0" height="1.33" fill="#a8a8a8"/>
<rect x="466.61" y="1101.20" width="1.0" height="3.98" fill="#707070"/>
<line x1="312.4" x2="472.5" y1="1101.2" y2="1101.2" stroke="#555" stroke-width="0.9"/>
<line x1="312.4" x2="472.5" y1="1083.9" y2="1083.9" stroke="#6c6cff" stroke-width="0.7" stroke-dasharray="2 1.6"/>
<line x1="312.4" x2="472.5" y1="1118.6" y2="1118.6" stroke="#6c6cff" stroke-width="0.7" stroke-dasharray="2 1.6"/>
<line x1="328.0" x2="328.0" y1="1172.5" y2="1175.0" stroke="#777" stroke-width="0.8"/>
<line x1="360.3" x2="360.3" y1="1172.5" y2="1175.0" stroke="#777" stroke-width="0.8"/>
<line x1="392.7" x2="392.7" y1="1172.5" y2="1175.0" stroke="#777" stroke-width="0.8"/>
<line x1="425.1" x2="425.1" y1="1172.5" y2="1175.0" stroke="#777" stroke-width="0.8"/>
<line x1="457.4" x2="457.4" y1="1172.5" y2="1175.0" stroke="#777" stroke-width="0.8"/>
<line x1="308.4" x2="312.4" y1="1034.9" y2="1034.9" stroke="#888" stroke-width="0.8"/>
<line x1="308.4" x2="312.4" y1="1068.0" y2="1068.0" stroke="#888" stroke-width="0.8"/>
<line x1="308.4" x2="312.4" y1="1101.2" y2="1101.2" stroke="#888" stroke-width="0.8"/>
<line x1="308.4" x2="312.4" y1="1134.4" y2="1134.4" stroke="#888" stroke-width="0.8"/>
<line x1="308.4" x2="312.4" y1="1167.5" y2="1167.5" stroke="#888" stroke-width="0.8"/>
<rect x="312.4" y="1030.2" width="85.4" height="10.3" fill="#fff" stroke="#777" stroke-width="0.7"/>
<text x="320.4" y="1037.2" font-size="3.9" fill="#444" textLength="71.4" lengthAdjust="spacingAndGlyphs">Max Cor. Value = 0.7761 (Lag = 0 )</text>
</g>
<text transform="translate(336.40,1024.20) scale(1.0000,1)" font-size="20">cell 1 and 10</text>
<text transform="translate(277.03,1038.50) scale(1.0920,1)" font-size="17.9">1.0</text>
<text transform="translate(276.19,1071.50) scale(1.1309,1)" font-size="17.9">0.5</text>
<text transform="translate(285.57,1104.70) scale(1.1634,1)" font-size="17.9">0</text>
<text transform="translate(272.20,1137.80) scale(1.1228,1)" font-size="17.9">-0.5</text>
<text transform="translate(272.20,1171.20) scale(1.1194,1)" font-size="17.9">-1.0</text>
<text transform="translate(318.68,1199.70) scale(1.0956,1)" font-size="18.6">-40</text>
<text transform="translate(353.30,1199.70) scale(1.0759,1)" font-size="18.6">-20</text>
<text transform="translate(393.07,1199.70) scale(1.1196,1)" font-size="18.6">0</text>
<text transform="translate(420.75,1199.70) scale(1.1317,1)" font-size="18.6">20</text>
<text transform="translate(456.00,1199.70) scale(1.0690,1)" font-size="18.6">40</text>
<text transform="translate(358.10,1227.80) scale(1.0014,1)" font-size="20">time lag</text>
<text transform="translate(300.89,1273.20) scale(1.0060,1)" font-size="20">r = 0.78 (time lag=0)</text>
<g>
<rect x="520.8" y="1030.5" width="159.9" height="141.8" fill="#fff" stroke="#9a9a9a" stroke-width="0.9"/>
<rect x="525.60" y="1101.10" width="1.0" height="2.65" fill="#9a9a9a"/>
<rect x="527.21" y="1101.10" width="1.0" height="3.31" fill="#9a9a9a"/>
<rect x="528.83" y="1101.10" width="1.0" height="3.31" fill="#707070"/>
<rect x="530.45" y="1101.10" width="1.0" height="3.31" fill="#707070"/>
<rect x="532.07" y="1101.10" width="1.0" height="2.65" fill="#a8a8a8"/>
<rect x="533.68" y="1101.10" width="1.0" height="2.65" fill="#707070"/>
<rect x="535.30" y="1101.10" width="1.0" height="2.65" fill="#707070"/>
<rect x="536.92" y="1101.10" width="1.0" height="3.31" fill="#707070"/>
<rect x="538.53" y="1101.10" width="1.0" height="4.64" fill="#a8a8a8"/>
<rect x="540.15" y="1101.10" width="1.0" height="5.64" fill="#a8a8a8"/>
<rect x="541.77" y="1101.10" width="1.0" height="7.96" fill="#707070"/>
<rect x="543.39" y="1101.10" width="1.0" height="15.91" fill="#707070"/>
<rect x="545.00" y="1101.10" width="1.0" height="9.28" fill="#a8a8a8"/>
<rect x="546.62" y="1101.10" width="1.0" height="16.57" fill="#a0a0a0"/>
<rect x="548.24" y="1101.10" width="1.0" height="10.94" fill="#707070"/>
<rect x="549.86" y="1101.10" width="1.0" height="17.24" fill="#9a9a9a"/>
<rect x="551.48" y="1101.10" width="1.0" height="16.57" fill="#b4b4b4"/>
<rect x="553.09" y="1101.10" width="1.0" height="13.92" fill="#b4b4b4"/>
<rect x="554.71" y="1101.10" width="1.0" height="12.60" fill="#a0a0a0"/>
<rect x="556.33" y="1101.10" width="1.0" height="10.94" fill="#a8a8a8"/>
<rect x="557.95" y="1101.10" width="1.0" height="9.94" fill="#9a9a9a"/>
<rect x="559.56" y="1101.10" width="1.0" height="6.30" fill="#707070"/>
<rect x="561.18" y="1101.10" width="1.0" height="3.98" fill="#a8a8a8"/>
<rect x="562.80" y="1101.10" width="1.0" height="1.33" fill="#a8a8a8"/>
<rect x="564.41" y="1101.10" width="1.0" height="0.66" fill="#707070"/>
<rect x="566.03" y="1100.44" width="1.0" height="0.66" fill="#707070"/>
<rect x="567.65" y="1097.78" width="1.0" height="3.31" fill="#a8a8a8"/>
<rect x="569.27" y="1097.12" width="1.0" height="3.98" fill="#9a9a9a"/>
<rect x="570.88" y="1094.80" width="1.0" height="6.30" fill="#b4b4b4"/>
<rect x="572.50" y="1093.14" width="1.0" height="7.96" fill="#a0a0a0"/>
<rect x="574.12" y="1096.46" width="1.0" height="4.64" fill="#a8a8a8"/>
<rect x="575.74" y="1097.78" width="1.0" height="3.31" fill="#707070"/>
<rect x="577.36" y="1093.14" width="1.0" height="7.96" fill="#a8a8a8"/>
<rect x="578.97" y="1094.80" width="1.0" height="6.30" fill="#707070"/>
<rect x="580.59" y="1096.46" width="1.0" height="4.64" fill="#707070"/>
<rect x="582.21" y="1093.14" width="1.0" height="7.96" fill="#a0a0a0"/>
<rect x="583.83" y="1094.80" width="1.0" height="6.30" fill="#b4b4b4"/>
<rect x="585.44" y="1091.82" width="1.0" height="9.28" fill="#9a9a9a"/>
<rect x="587.06" y="1090.16" width="1.0" height="10.94" fill="#9a9a9a"/>
<rect x="588.68" y="1087.18" width="1.0" height="13.92" fill="#b4b4b4"/>
<rect x="590.29" y="1084.52" width="1.0" height="16.57" fill="#707070"/>
<rect x="591.91" y="1081.54" width="1.0" height="19.56" fill="#707070"/>
<rect x="593.53" y="1082.87" width="1.0" height="18.23" fill="#a8a8a8"/>
<rect x="595.15" y="1079.22" width="1.0" height="21.88" fill="#a8a8a8"/>
<rect x="596.76" y="1076.90" width="1.0" height="24.20" fill="#a0a0a0"/>
<rect x="598.38" y="1069.61" width="1.0" height="31.49" fill="#a8a8a8"/>
<rect x="600.00" y="1046.73" width="1.0" height="54.37" fill="#a0a0a0"/>
<rect x="601.62" y="1062.65" width="1.0" height="38.45" fill="#9a9a9a"/>
<rect x="603.24" y="1079.22" width="1.0" height="21.88" fill="#a0a0a0"/>
<rect x="604.85" y="1085.19" width="1.0" height="15.91" fill="#a8a8a8"/>
<rect x="606.47" y="1085.85" width="1.0" height="15.25" fill="#9a9a9a"/>
<rect x="608.09" y="1085.19" width="1.0" height="15.91" fill="#b4b4b4"/>
<rect x="609.71" y="1089.50" width="1.0" height="11.60" fill="#a0a0a0"/>
<rect x="611.32" y="1094.47" width="1.0" height="6.63" fill="#a8a8a8"/>
<rect x="612.94" y="1096.46" width="1.0" height="4.64" fill="#a8a8a8"/>
<rect x="616.17" y="1101.10" width="1.0" height="5.64" fill="#a0a0a0"/>
<rect x="617.79" y="1101.10" width="1.0" height="6.30" fill="#9a9a9a"/>
<rect x="619.41" y="1101.10" width="1.0" height="5.64" fill="#a0a0a0"/>
<rect x="622.64" y="1094.80" width="1.0" height="6.30" fill="#9a9a9a"/>
<rect x="624.26" y="1095.80" width="1.0" height="5.30" fill="#a8a8a8"/>
<rect x="625.88" y="1097.12" width="1.0" height="3.98" fill="#a8a8a8"/>
<rect x="627.50" y="1094.80" width="1.0" height="6.30" fill="#a0a0a0"/>
<rect x="629.12" y="1099.77" width="1.0" height="1.33" fill="#a0a0a0"/>
<rect x="630.73" y="1092.48" width="1.0" height="8.62" fill="#9a9a9a"/>
<rect x="632.35" y="1093.14" width="1.0" height="7.96" fill="#a8a8a8"/>
<rect x="633.97" y="1094.47" width="1.0" height="6.63" fill="#b4b4b4"/>
<rect x="635.59" y="1101.10" width="1.0" height="3.31" fill="#707070"/>
<rect x="637.20" y="1101.10" width="1.0" height="4.64" fill="#a0a0a0"/>
<rect x="638.82" y="1101.10" width="1.0" height="6.30" fill="#b4b4b4"/>
<rect x="640.44" y="1101.10" width="1.0" height="6.63" fill="#b4b4b4"/>
<rect x="642.05" y="1101.10" width="1.0" height="9.28" fill="#707070"/>
<rect x="643.67" y="1101.10" width="1.0" height="10.94" fill="#a8a8a8"/>
<rect x="645.29" y="1101.10" width="1.0" height="15.25" fill="#a8a8a8"/>
<rect x="646.91" y="1101.10" width="1.0" height="12.60" fill="#a0a0a0"/>
<rect x="648.52" y="1101.10" width="1.0" height="15.91" fill="#b4b4b4"/>
<rect x="650.14" y="1101.10" width="1.0" height="9.94" fill="#b4b4b4"/>
<rect x="651.76" y="1101.10" width="1.0" height="10.94" fill="#a8a8a8"/>
<rect x="653.38" y="1101.10" width="1.0" height="11.93" fill="#707070"/>
<rect x="655.00" y="1101.10" width="1.0" height="9.94" fill="#707070"/>
<rect x="656.61" y="1101.10" width="1.0" height="5.64" fill="#a0a0a0"/>
<rect x="658.23" y="1101.10" width="1.0" height="3.31" fill="#707070"/>
<rect x="659.85" y="1101.10" width="1.0" height="2.65" fill="#b4b4b4"/>
<rect x="661.47" y="1101.10" width="1.0" height="1.33" fill="#9a9a9a"/>
<rect x="663.08" y="1101.10" width="1.0" height="1.33" fill="#b4b4b4"/>
<rect x="664.70" y="1101.10" width="1.0" height="1.33" fill="#707070"/>
<rect x="666.32" y="1101.10" width="1.0" height="2.65" fill="#b4b4b4"/>
<rect x="667.93" y="1101.10" width="1.0" height="3.31" fill="#a0a0a0"/>
<rect x="669.55" y="1101.10" width="1.0" height="3.31" fill="#b4b4b4"/>
<rect x="671.17" y="1101.10" width="1.0" height="3.98" fill="#a8a8a8"/>
<rect x="672.79" y="1101.10" width="1.0" height="3.31" fill="#b4b4b4"/>
<rect x="674.40" y="1101.10" width="1.0" height="4.64" fill="#b4b4b4"/>
<line x1="520.8" x2="680.7" y1="1101.1" y2="1101.1" stroke="#555" stroke-width="0.9"/>
<line x1="520.8" x2="680.7" y1="1083.8" y2="1083.8" stroke="#6c6cff" stroke-width="0.7" stroke-dasharray="2 1.6"/>
<line x1="520.8" x2="680.7" y1="1118.5" y2="1118.5" stroke="#6c6cff" stroke-width="0.7" stroke-dasharray="2 1.6"/>
<line x1="535.8" x2="535.8" y1="1172.3" y2="1174.8" stroke="#777" stroke-width="0.8"/>
<line x1="568.1" x2="568.1" y1="1172.3" y2="1174.8" stroke="#777" stroke-width="0.8"/>
<line x1="600.5" x2="600.5" y1="1172.3" y2="1174.8" stroke="#777" stroke-width="0.8"/>
<line x1="632.9" x2="632.9" y1="1172.3" y2="1174.8" stroke="#777" stroke-width="0.8"/>
<line x1="665.2" x2="665.2" y1="1172.3" y2="1174.8" stroke="#777" stroke-width="0.8"/>
<line x1="516.8" x2="520.8" y1="1034.8" y2="1034.8" stroke="#888" stroke-width="0.8"/>
<line x1="516.8" x2="520.8" y1="1067.9" y2="1067.9" stroke="#888" stroke-width="0.8"/>
<line x1="516.8" x2="520.8" y1="1101.1" y2="1101.1" stroke="#888" stroke-width="0.8"/>
<line x1="516.8" x2="520.8" y1="1134.2" y2="1134.2" stroke="#888" stroke-width="0.8"/>
<line x1="516.8" x2="520.8" y1="1167.4" y2="1167.4" stroke="#888" stroke-width="0.8"/>
<rect x="520.8" y="1030.5" width="84.2" height="10.3" fill="#fff" stroke="#777" stroke-width="0.7"/>
<text x="528.8" y="1037.5" font-size="3.9" fill="#444" textLength="70.2" lengthAdjust="spacingAndGlyphs">Max Cor. Value = 0.8263 (Lag = 0 )</text>
</g>
<text transform="translate(542.90,1024.90) scale(1.0000,1)" font-size="20">cell 9 and 10</text>
<text transform="translate(484.92,1041.20) scale(1.0869,1)" font-size="18.2">1.0</text>
<text transform="translate(484.29,1074.10) scale(1.1165,1)" font-size="18.2">0.5</text>
<text transform="translate(493.89,1106.90) scale(1.1216,1)" font-size="18.2">0</text>
<text transform="translate(480.08,1140.60) scale(1.1210,1)" font-size="18.2">-0.5</text>
<text transform="translate(480.09,1173.30) scale(1.1176,1)" font-size="18.2">-1.0</text>
<text transform="translate(525.48,1203.10) scale(1.1073,1)" font-size="18.6">-40</text>
<text transform="translate(560.09,1203.10) scale(1.0838,1)" font-size="18.6">-20</text>
<text transform="translate(599.87,1203.10) scale(1.1196,1)" font-size="18.6">0</text>
<text transform="translate(627.86,1203.10) scale(1.1160,1)" font-size="18.6">20</text>
<text transform="translate(662.80,1203.10) scale(1.0690,1)" font-size="18.6">40</text>
<text transform="translate(564.90,1232.00) scale(1.0014,1)" font-size="20">time lag</text>
<text transform="translate(511.40,1273.50) scale(1.0010,1)" font-size="20">r = 0.83 (time lag=0)</text>
</g>
</svg></body></html>
